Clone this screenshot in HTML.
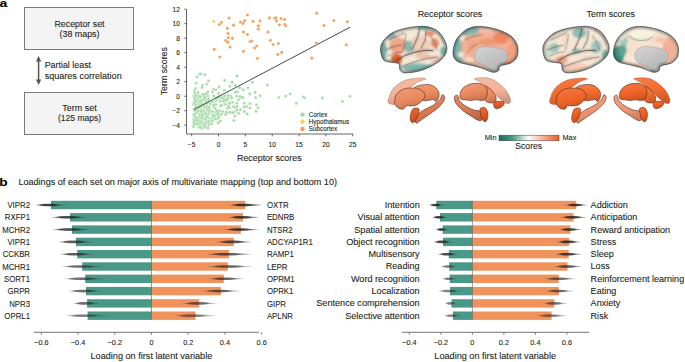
<!DOCTYPE html>
<html><head><meta charset="utf-8"><style>
html,body{margin:0;padding:0;background:#fff;}
svg{display:block;font-family:"Liberation Sans", sans-serif;}
text{stroke:#231f20;stroke-width:0.1px;paint-order:stroke;}
</style></head><body>
<svg width="685" height="362" viewBox="0 0 685 362">
<text x="-0.5" y="6.9" font-size="10.8" text-anchor="start" fill="#000" font-weight="bold" textLength="7.8" lengthAdjust="spacingAndGlyphs" >a</text>
<rect x="24.5" y="7.5" width="109" height="42" fill="#f4f4f4" stroke="#7a7a7a" stroke-width="1"/>
<rect x="24.5" y="92.5" width="109" height="42" fill="#f4f4f4" stroke="#7a7a7a" stroke-width="1"/>
<text x="79.5" y="26.7" font-size="8.9" text-anchor="middle" fill="#231f20" font-weight="normal" textLength="50" lengthAdjust="spacingAndGlyphs" >Receptor set</text>
<text x="79.5" y="36.5" font-size="8.9" text-anchor="middle" fill="#231f20" font-weight="normal" textLength="40" lengthAdjust="spacingAndGlyphs" >(38 maps)</text>
<text x="79.5" y="111.2" font-size="8.9" text-anchor="middle" fill="#231f20" font-weight="normal" textLength="34.3" lengthAdjust="spacingAndGlyphs" >Term set</text>
<text x="79.5" y="121" font-size="8.9" text-anchor="middle" fill="#231f20" font-weight="normal" textLength="43" lengthAdjust="spacingAndGlyphs" >(125 maps)</text>
<line x1="38.6" y1="60" x2="38.6" y2="81" stroke="#555" stroke-width="1.5"/>
<path d="M38.6 56 L41.2 61.5 L36 61.5 Z" fill="#555"/>
<path d="M38.6 85 L41.2 79.5 L36 79.5 Z" fill="#555"/>
<text x="44.7" y="68.2" font-size="8.9" text-anchor="start" fill="#231f20" font-weight="normal" >Partial least</text>
<text x="44.7" y="78.6" font-size="8.9" text-anchor="start" fill="#231f20" font-weight="normal" textLength="77" lengthAdjust="spacingAndGlyphs" >squares correlation</text>
<path d="M186.5 9.2 L186.5 134 L353 134" fill="none" stroke="#555" stroke-width="0.9"/>
<line x1="184.3" y1="125.20" x2="186.5" y2="125.20" stroke="#555" stroke-width="0.9"/>
<text x="180" y="127.60000000000001" font-size="6.7" text-anchor="end" fill="#231f20" font-weight="normal" >−4</text>
<line x1="184.3" y1="110.70" x2="186.5" y2="110.70" stroke="#555" stroke-width="0.9"/>
<text x="180" y="113.10000000000001" font-size="6.7" text-anchor="end" fill="#231f20" font-weight="normal" >−2</text>
<line x1="184.3" y1="96.20" x2="186.5" y2="96.20" stroke="#555" stroke-width="0.9"/>
<text x="180" y="98.60000000000001" font-size="6.7" text-anchor="end" fill="#231f20" font-weight="normal" >0</text>
<line x1="184.3" y1="81.70" x2="186.5" y2="81.70" stroke="#555" stroke-width="0.9"/>
<text x="180" y="84.10000000000001" font-size="6.7" text-anchor="end" fill="#231f20" font-weight="normal" >2</text>
<line x1="184.3" y1="67.20" x2="186.5" y2="67.20" stroke="#555" stroke-width="0.9"/>
<text x="180" y="69.60000000000001" font-size="6.7" text-anchor="end" fill="#231f20" font-weight="normal" >4</text>
<line x1="184.3" y1="52.70" x2="186.5" y2="52.70" stroke="#555" stroke-width="0.9"/>
<text x="180" y="55.1" font-size="6.7" text-anchor="end" fill="#231f20" font-weight="normal" >6</text>
<line x1="184.3" y1="38.20" x2="186.5" y2="38.20" stroke="#555" stroke-width="0.9"/>
<text x="180" y="40.6" font-size="6.7" text-anchor="end" fill="#231f20" font-weight="normal" >8</text>
<line x1="184.3" y1="23.70" x2="186.5" y2="23.70" stroke="#555" stroke-width="0.9"/>
<text x="180" y="26.1" font-size="6.7" text-anchor="end" fill="#231f20" font-weight="normal" >10</text>
<line x1="184.3" y1="9.20" x2="186.5" y2="9.20" stroke="#555" stroke-width="0.9"/>
<text x="180" y="11.600000000000003" font-size="6.7" text-anchor="end" fill="#231f20" font-weight="normal" >12</text>
<line x1="191.65" y1="134" x2="191.65" y2="136.3" stroke="#555" stroke-width="0.9"/>
<text x="191.65" y="146.6" font-size="6.7" text-anchor="middle" fill="#231f20" font-weight="normal" >−5</text>
<line x1="218.50" y1="134" x2="218.50" y2="136.3" stroke="#555" stroke-width="0.9"/>
<text x="218.5" y="146.6" font-size="6.7" text-anchor="middle" fill="#231f20" font-weight="normal" >0</text>
<line x1="245.35" y1="134" x2="245.35" y2="136.3" stroke="#555" stroke-width="0.9"/>
<text x="245.35" y="146.6" font-size="6.7" text-anchor="middle" fill="#231f20" font-weight="normal" >5</text>
<line x1="272.20" y1="134" x2="272.20" y2="136.3" stroke="#555" stroke-width="0.9"/>
<text x="272.2" y="146.6" font-size="6.7" text-anchor="middle" fill="#231f20" font-weight="normal" >10</text>
<line x1="299.05" y1="134" x2="299.05" y2="136.3" stroke="#555" stroke-width="0.9"/>
<text x="299.05" y="146.6" font-size="6.7" text-anchor="middle" fill="#231f20" font-weight="normal" >15</text>
<line x1="325.90" y1="134" x2="325.90" y2="136.3" stroke="#555" stroke-width="0.9"/>
<text x="325.9" y="146.6" font-size="6.7" text-anchor="middle" fill="#231f20" font-weight="normal" >20</text>
<line x1="352.75" y1="134" x2="352.75" y2="136.3" stroke="#555" stroke-width="0.9"/>
<text x="352.75" y="146.6" font-size="6.7" text-anchor="middle" fill="#231f20" font-weight="normal" >25</text>
<text x="269.3" y="160.5" font-size="8.9" text-anchor="middle" fill="#231f20" font-weight="normal" >Receptor scores</text>
<text x="0" y="0" font-size="8.9" text-anchor="middle" fill="#231f20" transform="translate(166.5 71.2) rotate(-90)">Term scores</text>
<circle cx="199.5" cy="74.1" r="1.55" fill="#a3d9a5" stroke="#fff" stroke-width="0.35"/>
<circle cx="201.1" cy="74.1" r="1.55" fill="#a3d9a5" stroke="#fff" stroke-width="0.35"/>
<circle cx="205.0" cy="74.7" r="1.55" fill="#a3d9a5" stroke="#fff" stroke-width="0.35"/>
<circle cx="197.0" cy="76.9" r="1.55" fill="#a3d9a5" stroke="#fff" stroke-width="0.35"/>
<circle cx="208.5" cy="80.8" r="1.55" fill="#a3d9a5" stroke="#fff" stroke-width="0.35"/>
<circle cx="196.1" cy="83.0" r="1.55" fill="#a3d9a5" stroke="#fff" stroke-width="0.35"/>
<circle cx="206.7" cy="84.1" r="1.55" fill="#a3d9a5" stroke="#fff" stroke-width="0.35"/>
<circle cx="202.5" cy="85.2" r="1.55" fill="#a3d9a5" stroke="#fff" stroke-width="0.35"/>
<circle cx="202.1" cy="87.6" r="1.55" fill="#a3d9a5" stroke="#fff" stroke-width="0.35"/>
<circle cx="195.4" cy="88.3" r="1.55" fill="#a3d9a5" stroke="#fff" stroke-width="0.35"/>
<circle cx="236.7" cy="75.8" r="1.55" fill="#a3d9a5" stroke="#fff" stroke-width="0.35"/>
<circle cx="224.6" cy="80.4" r="1.55" fill="#a3d9a5" stroke="#fff" stroke-width="0.35"/>
<circle cx="232.0" cy="82.1" r="1.55" fill="#a3d9a5" stroke="#fff" stroke-width="0.35"/>
<circle cx="219.0" cy="86.9" r="1.55" fill="#a3d9a5" stroke="#fff" stroke-width="0.35"/>
<circle cx="229.7" cy="86.2" r="1.55" fill="#a3d9a5" stroke="#fff" stroke-width="0.35"/>
<circle cx="235.3" cy="85.2" r="1.55" fill="#a3d9a5" stroke="#fff" stroke-width="0.35"/>
<circle cx="239.6" cy="87.6" r="1.55" fill="#a3d9a5" stroke="#fff" stroke-width="0.35"/>
<circle cx="243.1" cy="89.6" r="1.55" fill="#a3d9a5" stroke="#fff" stroke-width="0.35"/>
<circle cx="224.3" cy="90.2" r="1.55" fill="#a3d9a5" stroke="#fff" stroke-width="0.35"/>
<circle cx="213.5" cy="89.3" r="1.55" fill="#a3d9a5" stroke="#fff" stroke-width="0.35"/>
<circle cx="216.0" cy="89.8" r="1.55" fill="#a3d9a5" stroke="#fff" stroke-width="0.35"/>
<circle cx="194.7" cy="90.7" r="1.55" fill="#a3d9a5" stroke="#fff" stroke-width="0.35"/>
<circle cx="208.0" cy="91.5" r="1.55" fill="#a3d9a5" stroke="#fff" stroke-width="0.35"/>
<circle cx="212.4" cy="92.0" r="1.55" fill="#a3d9a5" stroke="#fff" stroke-width="0.35"/>
<circle cx="236.2" cy="92.0" r="1.55" fill="#a3d9a5" stroke="#fff" stroke-width="0.35"/>
<circle cx="237.8" cy="92.0" r="1.55" fill="#a3d9a5" stroke="#fff" stroke-width="0.35"/>
<circle cx="237.0" cy="76.1" r="1.55" fill="#a3d9a5" stroke="#fff" stroke-width="0.35"/>
<circle cx="232.1" cy="82.2" r="1.55" fill="#a3d9a5" stroke="#fff" stroke-width="0.35"/>
<circle cx="252.3" cy="82.2" r="1.55" fill="#a3d9a5" stroke="#fff" stroke-width="0.35"/>
<circle cx="267.4" cy="85.1" r="1.55" fill="#a3d9a5" stroke="#fff" stroke-width="0.35"/>
<circle cx="235.2" cy="85.3" r="1.55" fill="#a3d9a5" stroke="#fff" stroke-width="0.35"/>
<circle cx="239.6" cy="87.9" r="1.55" fill="#a3d9a5" stroke="#fff" stroke-width="0.35"/>
<circle cx="243.1" cy="89.7" r="1.55" fill="#a3d9a5" stroke="#fff" stroke-width="0.35"/>
<circle cx="247.9" cy="87.8" r="1.55" fill="#a3d9a5" stroke="#fff" stroke-width="0.35"/>
<circle cx="237.0" cy="91.8" r="1.55" fill="#a3d9a5" stroke="#fff" stroke-width="0.35"/>
<circle cx="235.2" cy="92.3" r="1.55" fill="#a3d9a5" stroke="#fff" stroke-width="0.35"/>
<circle cx="249.7" cy="93.9" r="1.55" fill="#a3d9a5" stroke="#fff" stroke-width="0.35"/>
<circle cx="255.2" cy="92.3" r="1.55" fill="#a3d9a5" stroke="#fff" stroke-width="0.35"/>
<circle cx="260.1" cy="95.8" r="1.55" fill="#a3d9a5" stroke="#fff" stroke-width="0.35"/>
<circle cx="255.6" cy="97.5" r="1.55" fill="#a3d9a5" stroke="#fff" stroke-width="0.35"/>
<circle cx="236.6" cy="96.1" r="1.55" fill="#a3d9a5" stroke="#fff" stroke-width="0.35"/>
<circle cx="240.8" cy="96.6" r="1.55" fill="#a3d9a5" stroke="#fff" stroke-width="0.35"/>
<circle cx="243.1" cy="97.5" r="1.55" fill="#a3d9a5" stroke="#fff" stroke-width="0.35"/>
<circle cx="231.7" cy="97.9" r="1.55" fill="#a3d9a5" stroke="#fff" stroke-width="0.35"/>
<circle cx="238.7" cy="99.6" r="1.55" fill="#a3d9a5" stroke="#fff" stroke-width="0.35"/>
<circle cx="278.8" cy="97.5" r="1.55" fill="#a3d9a5" stroke="#fff" stroke-width="0.35"/>
<circle cx="285.7" cy="96.1" r="1.55" fill="#a3d9a5" stroke="#fff" stroke-width="0.35"/>
<circle cx="290.2" cy="93.9" r="1.55" fill="#a3d9a5" stroke="#fff" stroke-width="0.35"/>
<circle cx="296.2" cy="103.4" r="1.55" fill="#a3d9a5" stroke="#fff" stroke-width="0.35"/>
<circle cx="232.6" cy="102.2" r="1.55" fill="#a3d9a5" stroke="#fff" stroke-width="0.35"/>
<circle cx="237.0" cy="103.4" r="1.55" fill="#a3d9a5" stroke="#fff" stroke-width="0.35"/>
<circle cx="244.3" cy="103.1" r="1.55" fill="#a3d9a5" stroke="#fff" stroke-width="0.35"/>
<circle cx="250.0" cy="103.6" r="1.55" fill="#a3d9a5" stroke="#fff" stroke-width="0.35"/>
<circle cx="256.5" cy="104.8" r="1.55" fill="#a3d9a5" stroke="#fff" stroke-width="0.35"/>
<circle cx="257.9" cy="107.8" r="1.55" fill="#a3d9a5" stroke="#fff" stroke-width="0.35"/>
<circle cx="246.5" cy="106.6" r="1.55" fill="#a3d9a5" stroke="#fff" stroke-width="0.35"/>
<circle cx="243.9" cy="106.9" r="1.55" fill="#a3d9a5" stroke="#fff" stroke-width="0.35"/>
<circle cx="250.0" cy="108.0" r="1.55" fill="#a3d9a5" stroke="#fff" stroke-width="0.35"/>
<circle cx="240.4" cy="109.7" r="1.55" fill="#a3d9a5" stroke="#fff" stroke-width="0.35"/>
<circle cx="233.5" cy="106.6" r="1.55" fill="#a3d9a5" stroke="#fff" stroke-width="0.35"/>
<circle cx="235.2" cy="107.4" r="1.55" fill="#a3d9a5" stroke="#fff" stroke-width="0.35"/>
<circle cx="237.0" cy="106.6" r="1.55" fill="#a3d9a5" stroke="#fff" stroke-width="0.35"/>
<circle cx="237.0" cy="110.0" r="1.55" fill="#a3d9a5" stroke="#fff" stroke-width="0.35"/>
<circle cx="234.4" cy="111.8" r="1.55" fill="#a3d9a5" stroke="#fff" stroke-width="0.35"/>
<circle cx="232.6" cy="112.7" r="1.55" fill="#a3d9a5" stroke="#fff" stroke-width="0.35"/>
<circle cx="238.7" cy="113.2" r="1.55" fill="#a3d9a5" stroke="#fff" stroke-width="0.35"/>
<circle cx="244.3" cy="111.4" r="1.55" fill="#a3d9a5" stroke="#fff" stroke-width="0.35"/>
<circle cx="247.1" cy="113.9" r="1.55" fill="#a3d9a5" stroke="#fff" stroke-width="0.35"/>
<circle cx="256.1" cy="111.4" r="1.55" fill="#a3d9a5" stroke="#fff" stroke-width="0.35"/>
<circle cx="234.9" cy="116.1" r="1.55" fill="#a3d9a5" stroke="#fff" stroke-width="0.35"/>
<circle cx="233.8" cy="120.5" r="1.55" fill="#a3d9a5" stroke="#fff" stroke-width="0.35"/>
<circle cx="303.1" cy="96.9" r="1.55" fill="#a3d9a5" stroke="#fff" stroke-width="0.35"/>
<circle cx="304.5" cy="97.7" r="1.55" fill="#a3d9a5" stroke="#fff" stroke-width="0.35"/>
<circle cx="322.3" cy="97.9" r="1.55" fill="#a3d9a5" stroke="#fff" stroke-width="0.35"/>
<circle cx="342.5" cy="101.4" r="1.55" fill="#a3d9a5" stroke="#fff" stroke-width="0.35"/>
<circle cx="349.9" cy="96.3" r="1.55" fill="#a3d9a5" stroke="#fff" stroke-width="0.35"/>
<circle cx="197.4" cy="112.8" r="1.55" fill="#a3d9a5" stroke="#fff" stroke-width="0.35"/>
<circle cx="199.6" cy="114.8" r="1.55" fill="#a3d9a5" stroke="#fff" stroke-width="0.35"/>
<circle cx="203.8" cy="96.3" r="1.55" fill="#a3d9a5" stroke="#fff" stroke-width="0.35"/>
<circle cx="193.7" cy="122.9" r="1.55" fill="#a3d9a5" stroke="#fff" stroke-width="0.35"/>
<circle cx="197.8" cy="102.1" r="1.55" fill="#a3d9a5" stroke="#fff" stroke-width="0.35"/>
<circle cx="209.9" cy="110.2" r="1.55" fill="#a3d9a5" stroke="#fff" stroke-width="0.35"/>
<circle cx="207.3" cy="110.4" r="1.55" fill="#a3d9a5" stroke="#fff" stroke-width="0.35"/>
<circle cx="204.0" cy="99.2" r="1.55" fill="#a3d9a5" stroke="#fff" stroke-width="0.35"/>
<circle cx="204.0" cy="123.9" r="1.55" fill="#a3d9a5" stroke="#fff" stroke-width="0.35"/>
<circle cx="202.1" cy="119.6" r="1.55" fill="#a3d9a5" stroke="#fff" stroke-width="0.35"/>
<circle cx="204.6" cy="96.2" r="1.55" fill="#a3d9a5" stroke="#fff" stroke-width="0.35"/>
<circle cx="206.0" cy="114.4" r="1.55" fill="#a3d9a5" stroke="#fff" stroke-width="0.35"/>
<circle cx="198.5" cy="95.1" r="1.55" fill="#a3d9a5" stroke="#fff" stroke-width="0.35"/>
<circle cx="207.8" cy="110.3" r="1.55" fill="#a3d9a5" stroke="#fff" stroke-width="0.35"/>
<circle cx="205.4" cy="124.3" r="1.55" fill="#a3d9a5" stroke="#fff" stroke-width="0.35"/>
<circle cx="205.3" cy="125.8" r="1.55" fill="#a3d9a5" stroke="#fff" stroke-width="0.35"/>
<circle cx="200.0" cy="121.6" r="1.55" fill="#a3d9a5" stroke="#fff" stroke-width="0.35"/>
<circle cx="200.8" cy="126.3" r="1.55" fill="#a3d9a5" stroke="#fff" stroke-width="0.35"/>
<circle cx="208.0" cy="97.4" r="1.55" fill="#a3d9a5" stroke="#fff" stroke-width="0.35"/>
<circle cx="195.7" cy="101.5" r="1.55" fill="#a3d9a5" stroke="#fff" stroke-width="0.35"/>
<circle cx="209.4" cy="109.0" r="1.55" fill="#a3d9a5" stroke="#fff" stroke-width="0.35"/>
<circle cx="203.8" cy="104.4" r="1.55" fill="#a3d9a5" stroke="#fff" stroke-width="0.35"/>
<circle cx="201.9" cy="107.3" r="1.55" fill="#a3d9a5" stroke="#fff" stroke-width="0.35"/>
<circle cx="199.3" cy="114.2" r="1.55" fill="#a3d9a5" stroke="#fff" stroke-width="0.35"/>
<circle cx="203.1" cy="125.2" r="1.55" fill="#a3d9a5" stroke="#fff" stroke-width="0.35"/>
<circle cx="204.8" cy="126.0" r="1.55" fill="#a3d9a5" stroke="#fff" stroke-width="0.35"/>
<circle cx="207.6" cy="128.2" r="1.55" fill="#a3d9a5" stroke="#fff" stroke-width="0.35"/>
<circle cx="204.6" cy="99.6" r="1.55" fill="#a3d9a5" stroke="#fff" stroke-width="0.35"/>
<circle cx="207.7" cy="127.3" r="1.55" fill="#a3d9a5" stroke="#fff" stroke-width="0.35"/>
<circle cx="208.4" cy="113.6" r="1.55" fill="#a3d9a5" stroke="#fff" stroke-width="0.35"/>
<circle cx="205.3" cy="101.3" r="1.55" fill="#a3d9a5" stroke="#fff" stroke-width="0.35"/>
<circle cx="207.2" cy="113.8" r="1.55" fill="#a3d9a5" stroke="#fff" stroke-width="0.35"/>
<circle cx="198.2" cy="96.2" r="1.55" fill="#a3d9a5" stroke="#fff" stroke-width="0.35"/>
<circle cx="207.6" cy="128.1" r="1.55" fill="#a3d9a5" stroke="#fff" stroke-width="0.35"/>
<circle cx="195.0" cy="121.6" r="1.55" fill="#a3d9a5" stroke="#fff" stroke-width="0.35"/>
<circle cx="200.3" cy="99.2" r="1.55" fill="#a3d9a5" stroke="#fff" stroke-width="0.35"/>
<circle cx="198.3" cy="120.5" r="1.55" fill="#a3d9a5" stroke="#fff" stroke-width="0.35"/>
<circle cx="207.9" cy="95.5" r="1.55" fill="#a3d9a5" stroke="#fff" stroke-width="0.35"/>
<circle cx="203.6" cy="95.6" r="1.55" fill="#a3d9a5" stroke="#fff" stroke-width="0.35"/>
<circle cx="205.4" cy="105.4" r="1.55" fill="#a3d9a5" stroke="#fff" stroke-width="0.35"/>
<circle cx="208.0" cy="127.8" r="1.55" fill="#a3d9a5" stroke="#fff" stroke-width="0.35"/>
<circle cx="201.8" cy="128.4" r="1.55" fill="#a3d9a5" stroke="#fff" stroke-width="0.35"/>
<circle cx="198.6" cy="96.7" r="1.55" fill="#a3d9a5" stroke="#fff" stroke-width="0.35"/>
<circle cx="203.4" cy="95.1" r="1.55" fill="#a3d9a5" stroke="#fff" stroke-width="0.35"/>
<circle cx="196.8" cy="108.1" r="1.55" fill="#a3d9a5" stroke="#fff" stroke-width="0.35"/>
<circle cx="203.6" cy="99.4" r="1.55" fill="#a3d9a5" stroke="#fff" stroke-width="0.35"/>
<circle cx="194.2" cy="123.9" r="1.55" fill="#a3d9a5" stroke="#fff" stroke-width="0.35"/>
<circle cx="198.7" cy="127.1" r="1.55" fill="#a3d9a5" stroke="#fff" stroke-width="0.35"/>
<circle cx="208.3" cy="107.0" r="1.55" fill="#a3d9a5" stroke="#fff" stroke-width="0.35"/>
<circle cx="201.1" cy="111.9" r="1.55" fill="#a3d9a5" stroke="#fff" stroke-width="0.35"/>
<circle cx="204.1" cy="114.5" r="1.55" fill="#a3d9a5" stroke="#fff" stroke-width="0.35"/>
<circle cx="202.7" cy="115.4" r="1.55" fill="#a3d9a5" stroke="#fff" stroke-width="0.35"/>
<circle cx="209.0" cy="111.5" r="1.55" fill="#a3d9a5" stroke="#fff" stroke-width="0.35"/>
<circle cx="200.6" cy="118.9" r="1.55" fill="#a3d9a5" stroke="#fff" stroke-width="0.35"/>
<circle cx="197.4" cy="104.4" r="1.55" fill="#a3d9a5" stroke="#fff" stroke-width="0.35"/>
<circle cx="209.6" cy="112.0" r="1.55" fill="#a3d9a5" stroke="#fff" stroke-width="0.35"/>
<circle cx="202.5" cy="94.4" r="1.55" fill="#a3d9a5" stroke="#fff" stroke-width="0.35"/>
<circle cx="200.4" cy="114.0" r="1.55" fill="#a3d9a5" stroke="#fff" stroke-width="0.35"/>
<circle cx="193.8" cy="115.2" r="1.55" fill="#a3d9a5" stroke="#fff" stroke-width="0.35"/>
<circle cx="203.9" cy="96.1" r="1.55" fill="#a3d9a5" stroke="#fff" stroke-width="0.35"/>
<circle cx="203.9" cy="110.1" r="1.55" fill="#a3d9a5" stroke="#fff" stroke-width="0.35"/>
<circle cx="204.7" cy="106.2" r="1.55" fill="#a3d9a5" stroke="#fff" stroke-width="0.35"/>
<circle cx="205.2" cy="119.5" r="1.55" fill="#a3d9a5" stroke="#fff" stroke-width="0.35"/>
<circle cx="193.9" cy="96.1" r="1.55" fill="#a3d9a5" stroke="#fff" stroke-width="0.35"/>
<circle cx="204.7" cy="127.2" r="1.55" fill="#a3d9a5" stroke="#fff" stroke-width="0.35"/>
<circle cx="197.6" cy="109.7" r="1.55" fill="#a3d9a5" stroke="#fff" stroke-width="0.35"/>
<circle cx="203.3" cy="105.0" r="1.55" fill="#a3d9a5" stroke="#fff" stroke-width="0.35"/>
<circle cx="199.5" cy="104.8" r="1.55" fill="#a3d9a5" stroke="#fff" stroke-width="0.35"/>
<circle cx="199.6" cy="114.5" r="1.55" fill="#a3d9a5" stroke="#fff" stroke-width="0.35"/>
<circle cx="198.5" cy="107.0" r="1.55" fill="#a3d9a5" stroke="#fff" stroke-width="0.35"/>
<circle cx="206.2" cy="94.9" r="1.55" fill="#a3d9a5" stroke="#fff" stroke-width="0.35"/>
<circle cx="202.9" cy="119.4" r="1.55" fill="#a3d9a5" stroke="#fff" stroke-width="0.35"/>
<circle cx="198.6" cy="101.7" r="1.55" fill="#a3d9a5" stroke="#fff" stroke-width="0.35"/>
<circle cx="206.8" cy="102.2" r="1.55" fill="#a3d9a5" stroke="#fff" stroke-width="0.35"/>
<circle cx="196.6" cy="109.0" r="1.55" fill="#a3d9a5" stroke="#fff" stroke-width="0.35"/>
<circle cx="205.0" cy="97.5" r="1.55" fill="#a3d9a5" stroke="#fff" stroke-width="0.35"/>
<circle cx="198.8" cy="105.5" r="1.55" fill="#a3d9a5" stroke="#fff" stroke-width="0.35"/>
<circle cx="207.3" cy="109.1" r="1.55" fill="#a3d9a5" stroke="#fff" stroke-width="0.35"/>
<circle cx="207.6" cy="99.8" r="1.55" fill="#a3d9a5" stroke="#fff" stroke-width="0.35"/>
<circle cx="199.1" cy="116.4" r="1.55" fill="#a3d9a5" stroke="#fff" stroke-width="0.35"/>
<circle cx="208.1" cy="109.6" r="1.55" fill="#a3d9a5" stroke="#fff" stroke-width="0.35"/>
<circle cx="197.2" cy="98.2" r="1.55" fill="#a3d9a5" stroke="#fff" stroke-width="0.35"/>
<circle cx="202.2" cy="100.6" r="1.55" fill="#a3d9a5" stroke="#fff" stroke-width="0.35"/>
<circle cx="206.8" cy="122.9" r="1.55" fill="#a3d9a5" stroke="#fff" stroke-width="0.35"/>
<circle cx="196.5" cy="103.6" r="1.55" fill="#a3d9a5" stroke="#fff" stroke-width="0.35"/>
<circle cx="206.8" cy="116.1" r="1.55" fill="#a3d9a5" stroke="#fff" stroke-width="0.35"/>
<circle cx="206.8" cy="105.9" r="1.55" fill="#a3d9a5" stroke="#fff" stroke-width="0.35"/>
<circle cx="195.6" cy="104.1" r="1.55" fill="#a3d9a5" stroke="#fff" stroke-width="0.35"/>
<circle cx="206.6" cy="103.4" r="1.55" fill="#a3d9a5" stroke="#fff" stroke-width="0.35"/>
<circle cx="199.2" cy="108.4" r="1.55" fill="#a3d9a5" stroke="#fff" stroke-width="0.35"/>
<circle cx="200.4" cy="108.1" r="1.55" fill="#a3d9a5" stroke="#fff" stroke-width="0.35"/>
<circle cx="208.7" cy="99.4" r="1.55" fill="#a3d9a5" stroke="#fff" stroke-width="0.35"/>
<circle cx="193.6" cy="126.5" r="1.55" fill="#a3d9a5" stroke="#fff" stroke-width="0.35"/>
<circle cx="208.0" cy="128.0" r="1.55" fill="#a3d9a5" stroke="#fff" stroke-width="0.35"/>
<circle cx="200.7" cy="126.8" r="1.55" fill="#a3d9a5" stroke="#fff" stroke-width="0.35"/>
<circle cx="208.8" cy="101.7" r="1.55" fill="#a3d9a5" stroke="#fff" stroke-width="0.35"/>
<circle cx="205.8" cy="122.9" r="1.55" fill="#a3d9a5" stroke="#fff" stroke-width="0.35"/>
<circle cx="204.4" cy="111.9" r="1.55" fill="#a3d9a5" stroke="#fff" stroke-width="0.35"/>
<circle cx="198.3" cy="105.8" r="1.55" fill="#a3d9a5" stroke="#fff" stroke-width="0.35"/>
<circle cx="197.3" cy="96.3" r="1.55" fill="#a3d9a5" stroke="#fff" stroke-width="0.35"/>
<circle cx="203.2" cy="103.9" r="1.55" fill="#a3d9a5" stroke="#fff" stroke-width="0.35"/>
<circle cx="206.9" cy="95.6" r="1.55" fill="#a3d9a5" stroke="#fff" stroke-width="0.35"/>
<circle cx="208.4" cy="117.9" r="1.55" fill="#a3d9a5" stroke="#fff" stroke-width="0.35"/>
<circle cx="208.7" cy="124.9" r="1.55" fill="#a3d9a5" stroke="#fff" stroke-width="0.35"/>
<circle cx="208.3" cy="113.9" r="1.55" fill="#a3d9a5" stroke="#fff" stroke-width="0.35"/>
<circle cx="193.7" cy="119.7" r="1.55" fill="#a3d9a5" stroke="#fff" stroke-width="0.35"/>
<circle cx="196.3" cy="104.3" r="1.55" fill="#a3d9a5" stroke="#fff" stroke-width="0.35"/>
<circle cx="204.4" cy="112.1" r="1.55" fill="#a3d9a5" stroke="#fff" stroke-width="0.35"/>
<circle cx="200.3" cy="126.4" r="1.55" fill="#a3d9a5" stroke="#fff" stroke-width="0.35"/>
<circle cx="203.6" cy="105.8" r="1.55" fill="#a3d9a5" stroke="#fff" stroke-width="0.35"/>
<circle cx="197.7" cy="123.7" r="1.55" fill="#a3d9a5" stroke="#fff" stroke-width="0.35"/>
<circle cx="201.4" cy="121.0" r="1.55" fill="#a3d9a5" stroke="#fff" stroke-width="0.35"/>
<circle cx="199.3" cy="100.8" r="1.55" fill="#a3d9a5" stroke="#fff" stroke-width="0.35"/>
<circle cx="202.3" cy="122.2" r="1.55" fill="#a3d9a5" stroke="#fff" stroke-width="0.35"/>
<circle cx="196.3" cy="121.3" r="1.55" fill="#a3d9a5" stroke="#fff" stroke-width="0.35"/>
<circle cx="208.7" cy="121.8" r="1.55" fill="#a3d9a5" stroke="#fff" stroke-width="0.35"/>
<circle cx="207.1" cy="94.3" r="1.55" fill="#a3d9a5" stroke="#fff" stroke-width="0.35"/>
<circle cx="203.9" cy="123.8" r="1.55" fill="#a3d9a5" stroke="#fff" stroke-width="0.35"/>
<circle cx="194.3" cy="103.4" r="1.55" fill="#a3d9a5" stroke="#fff" stroke-width="0.35"/>
<circle cx="197.9" cy="112.2" r="1.55" fill="#a3d9a5" stroke="#fff" stroke-width="0.35"/>
<circle cx="200.5" cy="110.3" r="1.55" fill="#a3d9a5" stroke="#fff" stroke-width="0.35"/>
<circle cx="206.3" cy="94.1" r="1.55" fill="#a3d9a5" stroke="#fff" stroke-width="0.35"/>
<circle cx="194.4" cy="98.4" r="1.55" fill="#a3d9a5" stroke="#fff" stroke-width="0.35"/>
<circle cx="195.6" cy="96.4" r="1.55" fill="#a3d9a5" stroke="#fff" stroke-width="0.35"/>
<circle cx="209.6" cy="123.5" r="1.55" fill="#a3d9a5" stroke="#fff" stroke-width="0.35"/>
<circle cx="194.9" cy="111.3" r="1.55" fill="#a3d9a5" stroke="#fff" stroke-width="0.35"/>
<circle cx="198.7" cy="104.9" r="1.55" fill="#a3d9a5" stroke="#fff" stroke-width="0.35"/>
<circle cx="199.3" cy="116.3" r="1.55" fill="#a3d9a5" stroke="#fff" stroke-width="0.35"/>
<circle cx="203.2" cy="106.4" r="1.55" fill="#a3d9a5" stroke="#fff" stroke-width="0.35"/>
<circle cx="196.7" cy="105.3" r="1.55" fill="#a3d9a5" stroke="#fff" stroke-width="0.35"/>
<circle cx="195.5" cy="113.2" r="1.55" fill="#a3d9a5" stroke="#fff" stroke-width="0.35"/>
<circle cx="205.3" cy="107.1" r="1.55" fill="#a3d9a5" stroke="#fff" stroke-width="0.35"/>
<circle cx="194.8" cy="100.2" r="1.55" fill="#a3d9a5" stroke="#fff" stroke-width="0.35"/>
<circle cx="199.7" cy="114.9" r="1.55" fill="#a3d9a5" stroke="#fff" stroke-width="0.35"/>
<circle cx="206.4" cy="107.1" r="1.55" fill="#a3d9a5" stroke="#fff" stroke-width="0.35"/>
<circle cx="206.7" cy="115.5" r="1.55" fill="#a3d9a5" stroke="#fff" stroke-width="0.35"/>
<circle cx="200.6" cy="106.8" r="1.55" fill="#a3d9a5" stroke="#fff" stroke-width="0.35"/>
<circle cx="201.7" cy="118.2" r="1.55" fill="#a3d9a5" stroke="#fff" stroke-width="0.35"/>
<circle cx="200.4" cy="117.9" r="1.55" fill="#a3d9a5" stroke="#fff" stroke-width="0.35"/>
<circle cx="201.1" cy="102.5" r="1.55" fill="#a3d9a5" stroke="#fff" stroke-width="0.35"/>
<circle cx="202.3" cy="118.0" r="1.55" fill="#a3d9a5" stroke="#fff" stroke-width="0.35"/>
<circle cx="194.7" cy="108.7" r="1.55" fill="#a3d9a5" stroke="#fff" stroke-width="0.35"/>
<circle cx="200.5" cy="124.3" r="1.55" fill="#a3d9a5" stroke="#fff" stroke-width="0.35"/>
<circle cx="209.0" cy="106.9" r="1.55" fill="#a3d9a5" stroke="#fff" stroke-width="0.35"/>
<circle cx="208.3" cy="121.3" r="1.55" fill="#a3d9a5" stroke="#fff" stroke-width="0.35"/>
<circle cx="197.8" cy="110.0" r="1.55" fill="#a3d9a5" stroke="#fff" stroke-width="0.35"/>
<circle cx="195.5" cy="122.1" r="1.55" fill="#a3d9a5" stroke="#fff" stroke-width="0.35"/>
<circle cx="204.4" cy="124.6" r="1.55" fill="#a3d9a5" stroke="#fff" stroke-width="0.35"/>
<circle cx="206.6" cy="117.0" r="1.55" fill="#a3d9a5" stroke="#fff" stroke-width="0.35"/>
<circle cx="205.6" cy="113.5" r="1.55" fill="#a3d9a5" stroke="#fff" stroke-width="0.35"/>
<circle cx="194.5" cy="116.8" r="1.55" fill="#a3d9a5" stroke="#fff" stroke-width="0.35"/>
<circle cx="193.5" cy="104.1" r="1.55" fill="#a3d9a5" stroke="#fff" stroke-width="0.35"/>
<circle cx="200.9" cy="101.3" r="1.55" fill="#a3d9a5" stroke="#fff" stroke-width="0.35"/>
<circle cx="194.4" cy="102.8" r="1.55" fill="#a3d9a5" stroke="#fff" stroke-width="0.35"/>
<circle cx="201.9" cy="105.1" r="1.55" fill="#a3d9a5" stroke="#fff" stroke-width="0.35"/>
<circle cx="193.7" cy="124.0" r="1.55" fill="#a3d9a5" stroke="#fff" stroke-width="0.35"/>
<circle cx="194.7" cy="124.1" r="1.55" fill="#a3d9a5" stroke="#fff" stroke-width="0.35"/>
<circle cx="199.9" cy="123.8" r="1.55" fill="#a3d9a5" stroke="#fff" stroke-width="0.35"/>
<circle cx="202.5" cy="116.5" r="1.55" fill="#a3d9a5" stroke="#fff" stroke-width="0.35"/>
<circle cx="201.1" cy="101.0" r="1.55" fill="#a3d9a5" stroke="#fff" stroke-width="0.35"/>
<circle cx="200.8" cy="114.6" r="1.55" fill="#a3d9a5" stroke="#fff" stroke-width="0.35"/>
<circle cx="200.3" cy="103.0" r="1.55" fill="#a3d9a5" stroke="#fff" stroke-width="0.35"/>
<circle cx="200.6" cy="126.6" r="1.55" fill="#a3d9a5" stroke="#fff" stroke-width="0.35"/>
<circle cx="194.1" cy="109.2" r="1.55" fill="#a3d9a5" stroke="#fff" stroke-width="0.35"/>
<circle cx="198.9" cy="123.6" r="1.55" fill="#a3d9a5" stroke="#fff" stroke-width="0.35"/>
<circle cx="195.8" cy="105.1" r="1.55" fill="#a3d9a5" stroke="#fff" stroke-width="0.35"/>
<circle cx="195.9" cy="117.6" r="1.55" fill="#a3d9a5" stroke="#fff" stroke-width="0.35"/>
<circle cx="200.7" cy="111.2" r="1.55" fill="#a3d9a5" stroke="#fff" stroke-width="0.35"/>
<circle cx="197.0" cy="111.3" r="1.55" fill="#a3d9a5" stroke="#fff" stroke-width="0.35"/>
<circle cx="196.8" cy="111.9" r="1.55" fill="#a3d9a5" stroke="#fff" stroke-width="0.35"/>
<circle cx="194.3" cy="114.3" r="1.55" fill="#a3d9a5" stroke="#fff" stroke-width="0.35"/>
<circle cx="202.7" cy="111.8" r="1.55" fill="#a3d9a5" stroke="#fff" stroke-width="0.35"/>
<circle cx="200.6" cy="104.6" r="1.55" fill="#a3d9a5" stroke="#fff" stroke-width="0.35"/>
<circle cx="200.1" cy="121.5" r="1.55" fill="#a3d9a5" stroke="#fff" stroke-width="0.35"/>
<circle cx="199.9" cy="114.7" r="1.55" fill="#a3d9a5" stroke="#fff" stroke-width="0.35"/>
<circle cx="198.1" cy="118.3" r="1.55" fill="#a3d9a5" stroke="#fff" stroke-width="0.35"/>
<circle cx="202.0" cy="104.3" r="1.55" fill="#a3d9a5" stroke="#fff" stroke-width="0.35"/>
<circle cx="194.4" cy="121.3" r="1.55" fill="#a3d9a5" stroke="#fff" stroke-width="0.35"/>
<circle cx="202.2" cy="114.7" r="1.55" fill="#a3d9a5" stroke="#fff" stroke-width="0.35"/>
<circle cx="197.7" cy="120.5" r="1.55" fill="#a3d9a5" stroke="#fff" stroke-width="0.35"/>
<circle cx="195.3" cy="107.6" r="1.55" fill="#a3d9a5" stroke="#fff" stroke-width="0.35"/>
<circle cx="195.4" cy="116.7" r="1.55" fill="#a3d9a5" stroke="#fff" stroke-width="0.35"/>
<circle cx="196.5" cy="106.6" r="1.55" fill="#a3d9a5" stroke="#fff" stroke-width="0.35"/>
<circle cx="200.1" cy="127.2" r="1.55" fill="#a3d9a5" stroke="#fff" stroke-width="0.35"/>
<circle cx="196.3" cy="120.1" r="1.55" fill="#a3d9a5" stroke="#fff" stroke-width="0.35"/>
<circle cx="197.4" cy="124.3" r="1.55" fill="#a3d9a5" stroke="#fff" stroke-width="0.35"/>
<circle cx="199.1" cy="107.6" r="1.55" fill="#a3d9a5" stroke="#fff" stroke-width="0.35"/>
<circle cx="195.6" cy="100.7" r="1.55" fill="#a3d9a5" stroke="#fff" stroke-width="0.35"/>
<circle cx="198.1" cy="110.9" r="1.55" fill="#a3d9a5" stroke="#fff" stroke-width="0.35"/>
<circle cx="195.1" cy="110.3" r="1.55" fill="#a3d9a5" stroke="#fff" stroke-width="0.35"/>
<circle cx="213.9" cy="117.2" r="1.55" fill="#a3d9a5" stroke="#fff" stroke-width="0.35"/>
<circle cx="211.7" cy="123.7" r="1.55" fill="#a3d9a5" stroke="#fff" stroke-width="0.35"/>
<circle cx="215.8" cy="112.0" r="1.55" fill="#a3d9a5" stroke="#fff" stroke-width="0.35"/>
<circle cx="215.6" cy="119.0" r="1.55" fill="#a3d9a5" stroke="#fff" stroke-width="0.35"/>
<circle cx="219.9" cy="110.7" r="1.55" fill="#a3d9a5" stroke="#fff" stroke-width="0.35"/>
<circle cx="215.8" cy="115.6" r="1.55" fill="#a3d9a5" stroke="#fff" stroke-width="0.35"/>
<circle cx="220.3" cy="106.0" r="1.55" fill="#a3d9a5" stroke="#fff" stroke-width="0.35"/>
<circle cx="218.8" cy="122.8" r="1.55" fill="#a3d9a5" stroke="#fff" stroke-width="0.35"/>
<circle cx="215.6" cy="100.9" r="1.55" fill="#a3d9a5" stroke="#fff" stroke-width="0.35"/>
<circle cx="212.8" cy="115.5" r="1.55" fill="#a3d9a5" stroke="#fff" stroke-width="0.35"/>
<circle cx="218.1" cy="122.8" r="1.55" fill="#a3d9a5" stroke="#fff" stroke-width="0.35"/>
<circle cx="220.2" cy="101.3" r="1.55" fill="#a3d9a5" stroke="#fff" stroke-width="0.35"/>
<circle cx="212.3" cy="101.8" r="1.55" fill="#a3d9a5" stroke="#fff" stroke-width="0.35"/>
<circle cx="212.2" cy="115.1" r="1.55" fill="#a3d9a5" stroke="#fff" stroke-width="0.35"/>
<circle cx="220.3" cy="121.0" r="1.55" fill="#a3d9a5" stroke="#fff" stroke-width="0.35"/>
<circle cx="213.1" cy="120.0" r="1.55" fill="#a3d9a5" stroke="#fff" stroke-width="0.35"/>
<circle cx="213.8" cy="106.7" r="1.55" fill="#a3d9a5" stroke="#fff" stroke-width="0.35"/>
<circle cx="218.7" cy="96.6" r="1.55" fill="#a3d9a5" stroke="#fff" stroke-width="0.35"/>
<circle cx="211.1" cy="119.0" r="1.55" fill="#a3d9a5" stroke="#fff" stroke-width="0.35"/>
<circle cx="213.5" cy="104.7" r="1.55" fill="#a3d9a5" stroke="#fff" stroke-width="0.35"/>
<circle cx="217.0" cy="114.3" r="1.55" fill="#a3d9a5" stroke="#fff" stroke-width="0.35"/>
<circle cx="210.1" cy="104.0" r="1.55" fill="#a3d9a5" stroke="#fff" stroke-width="0.35"/>
<circle cx="215.2" cy="108.6" r="1.55" fill="#a3d9a5" stroke="#fff" stroke-width="0.35"/>
<circle cx="212.5" cy="111.6" r="1.55" fill="#a3d9a5" stroke="#fff" stroke-width="0.35"/>
<circle cx="221.5" cy="105.7" r="1.55" fill="#a3d9a5" stroke="#fff" stroke-width="0.35"/>
<circle cx="216.5" cy="97.6" r="1.55" fill="#a3d9a5" stroke="#fff" stroke-width="0.35"/>
<circle cx="213.3" cy="114.0" r="1.55" fill="#a3d9a5" stroke="#fff" stroke-width="0.35"/>
<circle cx="211.4" cy="120.6" r="1.55" fill="#a3d9a5" stroke="#fff" stroke-width="0.35"/>
<circle cx="220.9" cy="96.9" r="1.55" fill="#a3d9a5" stroke="#fff" stroke-width="0.35"/>
<circle cx="221.3" cy="105.2" r="1.55" fill="#a3d9a5" stroke="#fff" stroke-width="0.35"/>
<circle cx="219.3" cy="116.7" r="1.55" fill="#a3d9a5" stroke="#fff" stroke-width="0.35"/>
<circle cx="213.5" cy="114.3" r="1.55" fill="#a3d9a5" stroke="#fff" stroke-width="0.35"/>
<circle cx="217.8" cy="118.2" r="1.55" fill="#a3d9a5" stroke="#fff" stroke-width="0.35"/>
<circle cx="213.2" cy="116.6" r="1.55" fill="#a3d9a5" stroke="#fff" stroke-width="0.35"/>
<circle cx="221.5" cy="114.2" r="1.55" fill="#a3d9a5" stroke="#fff" stroke-width="0.35"/>
<circle cx="216.4" cy="97.4" r="1.55" fill="#a3d9a5" stroke="#fff" stroke-width="0.35"/>
<circle cx="215.9" cy="104.6" r="1.55" fill="#a3d9a5" stroke="#fff" stroke-width="0.35"/>
<circle cx="218.6" cy="114.4" r="1.55" fill="#a3d9a5" stroke="#fff" stroke-width="0.35"/>
<circle cx="216.8" cy="99.5" r="1.55" fill="#a3d9a5" stroke="#fff" stroke-width="0.35"/>
<circle cx="217.7" cy="112.9" r="1.55" fill="#a3d9a5" stroke="#fff" stroke-width="0.35"/>
<circle cx="212.1" cy="120.7" r="1.55" fill="#a3d9a5" stroke="#fff" stroke-width="0.35"/>
<circle cx="217.9" cy="97.7" r="1.55" fill="#a3d9a5" stroke="#fff" stroke-width="0.35"/>
<circle cx="221.2" cy="98.2" r="1.55" fill="#a3d9a5" stroke="#fff" stroke-width="0.35"/>
<circle cx="214.0" cy="115.6" r="1.55" fill="#a3d9a5" stroke="#fff" stroke-width="0.35"/>
<circle cx="217.2" cy="110.6" r="1.55" fill="#a3d9a5" stroke="#fff" stroke-width="0.35"/>
<circle cx="228.5" cy="105.5" r="1.55" fill="#a3d9a5" stroke="#fff" stroke-width="0.35"/>
<circle cx="225.1" cy="99.1" r="1.55" fill="#a3d9a5" stroke="#fff" stroke-width="0.35"/>
<circle cx="222.7" cy="111.5" r="1.55" fill="#a3d9a5" stroke="#fff" stroke-width="0.35"/>
<circle cx="229.5" cy="107.5" r="1.55" fill="#a3d9a5" stroke="#fff" stroke-width="0.35"/>
<circle cx="229.4" cy="103.3" r="1.55" fill="#a3d9a5" stroke="#fff" stroke-width="0.35"/>
<circle cx="224.7" cy="103.8" r="1.55" fill="#a3d9a5" stroke="#fff" stroke-width="0.35"/>
<circle cx="230.7" cy="96.0" r="1.55" fill="#a3d9a5" stroke="#fff" stroke-width="0.35"/>
<circle cx="227.0" cy="100.7" r="1.55" fill="#a3d9a5" stroke="#fff" stroke-width="0.35"/>
<circle cx="229.7" cy="103.1" r="1.55" fill="#a3d9a5" stroke="#fff" stroke-width="0.35"/>
<circle cx="225.3" cy="104.3" r="1.55" fill="#a3d9a5" stroke="#fff" stroke-width="0.35"/>
<circle cx="227.4" cy="112.7" r="1.55" fill="#a3d9a5" stroke="#fff" stroke-width="0.35"/>
<circle cx="225.5" cy="114.5" r="1.55" fill="#a3d9a5" stroke="#fff" stroke-width="0.35"/>
<circle cx="223.1" cy="101.2" r="1.55" fill="#a3d9a5" stroke="#fff" stroke-width="0.35"/>
<circle cx="223.0" cy="97.6" r="1.55" fill="#a3d9a5" stroke="#fff" stroke-width="0.35"/>
<circle cx="229.8" cy="111.7" r="1.55" fill="#a3d9a5" stroke="#fff" stroke-width="0.35"/>
<circle cx="223.8" cy="99.4" r="1.55" fill="#a3d9a5" stroke="#fff" stroke-width="0.35"/>
<circle cx="226.2" cy="112.1" r="1.55" fill="#a3d9a5" stroke="#fff" stroke-width="0.35"/>
<circle cx="230.2" cy="112.2" r="1.55" fill="#a3d9a5" stroke="#fff" stroke-width="0.35"/>
<circle cx="227.9" cy="98.4" r="1.55" fill="#a3d9a5" stroke="#fff" stroke-width="0.35"/>
<circle cx="226.0" cy="99.5" r="1.55" fill="#a3d9a5" stroke="#fff" stroke-width="0.35"/>
<circle cx="227.3" cy="108.1" r="1.55" fill="#a3d9a5" stroke="#fff" stroke-width="0.35"/>
<circle cx="224.0" cy="100.8" r="1.55" fill="#a3d9a5" stroke="#fff" stroke-width="0.35"/>
<circle cx="198.0" cy="92.6" r="1.55" fill="#a3d9a5" stroke="#fff" stroke-width="0.35"/>
<circle cx="206.9" cy="93.1" r="1.55" fill="#a3d9a5" stroke="#fff" stroke-width="0.35"/>
<circle cx="218.5" cy="93.7" r="1.55" fill="#a3d9a5" stroke="#fff" stroke-width="0.35"/>
<circle cx="213.5" cy="95.9" r="1.55" fill="#a3d9a5" stroke="#fff" stroke-width="0.35"/>
<circle cx="224.6" cy="95.9" r="1.55" fill="#a3d9a5" stroke="#fff" stroke-width="0.35"/>
<circle cx="227.9" cy="95.4" r="1.55" fill="#a3d9a5" stroke="#fff" stroke-width="0.35"/>
<circle cx="240.0" cy="96.5" r="1.55" fill="#a3d9a5" stroke="#fff" stroke-width="0.35"/>
<circle cx="242.2" cy="97.6" r="1.55" fill="#a3d9a5" stroke="#fff" stroke-width="0.35"/>
<circle cx="195.8" cy="95.4" r="1.55" fill="#a3d9a5" stroke="#fff" stroke-width="0.35"/>
<circle cx="200.3" cy="96.5" r="1.55" fill="#a3d9a5" stroke="#fff" stroke-width="0.35"/>
<circle cx="203.6" cy="94.3" r="1.55" fill="#a3d9a5" stroke="#fff" stroke-width="0.35"/>
<circle cx="194.7" cy="93.1" r="1.55" fill="#a3d9a5" stroke="#fff" stroke-width="0.35"/>
<line x1="193.9" y1="109.6" x2="350.1" y2="27.2" stroke="#4a4a4a" stroke-width="1"/>
<circle cx="229.1" cy="18.1" r="1.6" fill="#f59b52" stroke="#fff" stroke-width="0.3"/>
<circle cx="221.5" cy="22.3" r="1.6" fill="#f59b52" stroke="#fff" stroke-width="0.3"/>
<circle cx="219.4" cy="24.5" r="1.6" fill="#f59b52" stroke="#fff" stroke-width="0.3"/>
<circle cx="233.6" cy="25.2" r="1.6" fill="#f59b52" stroke="#fff" stroke-width="0.3"/>
<circle cx="227.3" cy="28.4" r="1.6" fill="#f59b52" stroke="#fff" stroke-width="0.3"/>
<circle cx="228.0" cy="33.4" r="1.6" fill="#f59b52" stroke="#fff" stroke-width="0.3"/>
<circle cx="228.3" cy="37.5" r="1.6" fill="#f59b52" stroke="#fff" stroke-width="0.3"/>
<circle cx="225.7" cy="40.4" r="1.6" fill="#f59b52" stroke="#fff" stroke-width="0.3"/>
<circle cx="227.9" cy="42.2" r="1.6" fill="#f59b52" stroke="#fff" stroke-width="0.3"/>
<circle cx="232.4" cy="38.3" r="1.6" fill="#f59b52" stroke="#fff" stroke-width="0.3"/>
<circle cx="230.0" cy="47.1" r="1.6" fill="#f59b52" stroke="#fff" stroke-width="0.3"/>
<circle cx="214.3" cy="49.4" r="1.6" fill="#f59b52" stroke="#fff" stroke-width="0.3"/>
<circle cx="219.7" cy="57.0" r="1.6" fill="#f59b52" stroke="#fff" stroke-width="0.3"/>
<circle cx="240.5" cy="22.2" r="1.6" fill="#f59b52" stroke="#fff" stroke-width="0.3"/>
<circle cx="243.1" cy="23.4" r="1.6" fill="#f59b52" stroke="#fff" stroke-width="0.3"/>
<circle cx="244.7" cy="20.8" r="1.6" fill="#f59b52" stroke="#fff" stroke-width="0.3"/>
<circle cx="247.5" cy="15.0" r="1.6" fill="#f59b52" stroke="#fff" stroke-width="0.3"/>
<circle cx="243.4" cy="31.9" r="1.6" fill="#f59b52" stroke="#fff" stroke-width="0.3"/>
<circle cx="247.5" cy="34.5" r="1.6" fill="#f59b52" stroke="#fff" stroke-width="0.3"/>
<circle cx="253.1" cy="21.3" r="1.6" fill="#f59b52" stroke="#fff" stroke-width="0.3"/>
<circle cx="258.4" cy="25.8" r="1.6" fill="#f59b52" stroke="#fff" stroke-width="0.3"/>
<circle cx="258.3" cy="29.0" r="1.6" fill="#f59b52" stroke="#fff" stroke-width="0.3"/>
<circle cx="260.1" cy="20.8" r="1.6" fill="#f59b52" stroke="#fff" stroke-width="0.3"/>
<circle cx="268.0" cy="32.1" r="1.6" fill="#f59b52" stroke="#fff" stroke-width="0.3"/>
<circle cx="269.4" cy="17.9" r="1.6" fill="#f59b52" stroke="#fff" stroke-width="0.3"/>
<circle cx="274.4" cy="18.1" r="1.6" fill="#f59b52" stroke="#fff" stroke-width="0.3"/>
<circle cx="250.1" cy="41.5" r="1.6" fill="#f59b52" stroke="#fff" stroke-width="0.3"/>
<circle cx="251.9" cy="41.0" r="1.6" fill="#f59b52" stroke="#fff" stroke-width="0.3"/>
<circle cx="256.6" cy="46.0" r="1.6" fill="#f59b52" stroke="#fff" stroke-width="0.3"/>
<circle cx="254.6" cy="48.0" r="1.6" fill="#f59b52" stroke="#fff" stroke-width="0.3"/>
<circle cx="243.5" cy="51.4" r="1.6" fill="#f59b52" stroke="#fff" stroke-width="0.3"/>
<circle cx="257.5" cy="58.5" r="1.6" fill="#f59b52" stroke="#fff" stroke-width="0.3"/>
<circle cx="270.4" cy="40.3" r="1.6" fill="#f59b52" stroke="#fff" stroke-width="0.3"/>
<circle cx="273.2" cy="44.5" r="1.6" fill="#f59b52" stroke="#fff" stroke-width="0.3"/>
<circle cx="275.9" cy="17.9" r="1.6" fill="#f59b52" stroke="#fff" stroke-width="0.3"/>
<circle cx="276.4" cy="20.8" r="1.6" fill="#f59b52" stroke="#fff" stroke-width="0.3"/>
<circle cx="281.0" cy="18.7" r="1.6" fill="#f59b52" stroke="#fff" stroke-width="0.3"/>
<circle cx="284.5" cy="19.4" r="1.6" fill="#f59b52" stroke="#fff" stroke-width="0.3"/>
<circle cx="279.4" cy="24.8" r="1.6" fill="#f59b52" stroke="#fff" stroke-width="0.3"/>
<circle cx="284.8" cy="24.5" r="1.6" fill="#f59b52" stroke="#fff" stroke-width="0.3"/>
<circle cx="285.7" cy="25.8" r="1.6" fill="#f59b52" stroke="#fff" stroke-width="0.3"/>
<circle cx="278.4" cy="43.5" r="1.6" fill="#f59b52" stroke="#fff" stroke-width="0.3"/>
<circle cx="281.7" cy="52.4" r="1.6" fill="#f59b52" stroke="#fff" stroke-width="0.3"/>
<circle cx="277.9" cy="54.4" r="1.6" fill="#f59b52" stroke="#fff" stroke-width="0.3"/>
<circle cx="311.8" cy="58.2" r="1.6" fill="#f59b52" stroke="#fff" stroke-width="0.3"/>
<circle cx="316.7" cy="13.2" r="1.6" fill="#f59b52" stroke="#fff" stroke-width="0.3"/>
<circle cx="324.0" cy="25.4" r="1.6" fill="#f59b52" stroke="#fff" stroke-width="0.3"/>
<circle cx="333.7" cy="20.5" r="1.6" fill="#f59b52" stroke="#fff" stroke-width="0.3"/>
<circle cx="347.4" cy="21.7" r="1.6" fill="#f59b52" stroke="#fff" stroke-width="0.3"/>
<circle cx="316.4" cy="43.0" r="1.6" fill="#f59b52" stroke="#fff" stroke-width="0.3"/>
<circle cx="346.3" cy="44.8" r="1.6" fill="#f59b52" stroke="#fff" stroke-width="0.3"/>
<circle cx="213.7" cy="21.4" r="1.6" fill="#fcd25e" stroke="#fff" stroke-width="0.3"/>
<circle cx="302.5" cy="114.6" r="2.2" fill="#a3d9a5"/>
<text x="308.8" y="116.8" font-size="6.3" text-anchor="start" fill="#231f20" font-weight="normal" >Cortex</text>
<circle cx="302.5" cy="121.7" r="2.2" fill="#fcd25e"/>
<text x="308.8" y="123.9" font-size="6.3" text-anchor="start" fill="#231f20" font-weight="normal" >Hypothalamus</text>
<circle cx="302.5" cy="129" r="2.2" fill="#f59b52"/>
<text x="308.8" y="131.2" font-size="6.3" text-anchor="start" fill="#231f20" font-weight="normal" >Subcortex</text>
<defs><linearGradient id="grayg" x1="0" y1="0" x2="0.7" y2="1"><stop offset="0" stop-color="#d6d6d6"/><stop offset="1" stop-color="#b4b4b4"/></linearGradient></defs>
<defs><filter id="bl" x="-20%" y="-20%" width="140%" height="140%"><feGaussianBlur stdDeviation="1.1"/></filter><filter id="bl2" x="-20%" y="-20%" width="140%" height="140%"><feGaussianBlur stdDeviation="0.6"/></filter></defs>
<clipPath id="cprl"><path d="M380.60 50.90 C380.98 53.43 381.83 58.10 383.60 60.00 C385.37 61.90 388.67 61.67 391.20 62.30 C393.73 62.93 397.28 62.42 398.80 63.80 C400.32 65.18 399.03 69.08 400.30 70.60 C401.57 72.12 402.85 72.95 406.40 72.90 C409.95 72.85 416.53 71.95 421.60 70.30 C426.67 68.65 432.87 65.60 436.80 63.00 C440.73 60.40 443.55 57.48 445.20 54.70 C446.85 51.92 447.08 49.22 446.70 46.30 C446.32 43.38 444.55 39.85 442.90 37.20 C441.25 34.55 439.58 32.17 436.80 30.40 C434.02 28.63 430.00 27.18 426.20 26.60 C422.40 26.02 417.80 26.53 414.00 26.90 C410.20 27.27 406.95 27.85 403.40 28.80 C399.85 29.75 395.75 30.95 392.70 32.60 C389.65 34.25 387.00 36.67 385.10 38.70 C383.20 40.73 382.05 42.77 381.30 44.80 C380.55 46.83 380.22 48.37 380.60 50.90 Z"/></clipPath>
<g clip-path="url(#cprl)">
<path d="M380.60 50.90 C380.98 53.43 381.83 58.10 383.60 60.00 C385.37 61.90 388.67 61.67 391.20 62.30 C393.73 62.93 397.28 62.42 398.80 63.80 C400.32 65.18 399.03 69.08 400.30 70.60 C401.57 72.12 402.85 72.95 406.40 72.90 C409.95 72.85 416.53 71.95 421.60 70.30 C426.67 68.65 432.87 65.60 436.80 63.00 C440.73 60.40 443.55 57.48 445.20 54.70 C446.85 51.92 447.08 49.22 446.70 46.30 C446.32 43.38 444.55 39.85 442.90 37.20 C441.25 34.55 439.58 32.17 436.80 30.40 C434.02 28.63 430.00 27.18 426.20 26.60 C422.40 26.02 417.80 26.53 414.00 26.90 C410.20 27.27 406.95 27.85 403.40 28.80 C399.85 29.75 395.75 30.95 392.70 32.60 C389.65 34.25 387.00 36.67 385.10 38.70 C383.20 40.73 382.05 42.77 381.30 44.80 C380.55 46.83 380.22 48.37 380.60 50.90 Z" fill="#f4e9d8"/>
<g filter="url(#bl)">
<ellipse cx="420.00" cy="45.00" rx="11" ry="9" fill="#f3d0be" transform="rotate(0 420.00 45.00)"/>
<ellipse cx="423.00" cy="56.00" rx="8" ry="3" fill="#f2c0aa" transform="rotate(0 423.00 56.00)"/>
<ellipse cx="383.50" cy="51.00" rx="3.5" ry="9" fill="#7fb8af" transform="rotate(0 383.50 51.00)"/>
<ellipse cx="398.00" cy="45.50" rx="8.5" ry="9" fill="#f0a488" transform="rotate(0 398.00 45.50)"/>
<ellipse cx="392.00" cy="38.00" rx="4" ry="3" fill="#f3c0ab" transform="rotate(0 392.00 38.00)"/>
<ellipse cx="396.50" cy="59.00" rx="5.5" ry="5" fill="#e6602f" transform="rotate(0 396.50 59.00)"/>
<ellipse cx="408.50" cy="46.50" rx="4" ry="6" fill="#7fb8af" transform="rotate(0 408.50 46.50)"/>
<ellipse cx="402.00" cy="35.00" rx="4" ry="3.5" fill="#f4e9d8" transform="rotate(0 402.00 35.00)"/>
<ellipse cx="390.00" cy="35.50" rx="6" ry="3.5" fill="#9cc5bb" transform="rotate(0 390.00 35.50)"/>
<ellipse cx="425.00" cy="27.50" rx="7" ry="3" fill="#7fb8af" transform="rotate(0 425.00 27.50)"/>
<ellipse cx="430.00" cy="33.50" rx="4.5" ry="3" fill="#ee9070" transform="rotate(0 430.00 33.50)"/>
<ellipse cx="435.00" cy="43.00" rx="4" ry="5" fill="#ee9070" transform="rotate(0 435.00 43.00)"/>
<ellipse cx="443.50" cy="51.00" rx="3.5" ry="4.5" fill="#7fb8af" transform="rotate(0 443.50 51.00)"/>
<ellipse cx="418.00" cy="68.00" rx="15" ry="4.5" fill="#7fb8af" transform="rotate(0 418.00 68.00)"/>
<ellipse cx="436.00" cy="59.00" rx="6" ry="3" fill="#f4cdbc" transform="rotate(0 436.00 59.00)"/>
<ellipse cx="420.00" cy="48.00" rx="5" ry="3" fill="#f4cdbc" transform="rotate(0 420.00 48.00)"/>
<ellipse cx="394.00" cy="66.00" rx="3" ry="3" fill="#f3d9c9" transform="rotate(0 394.00 66.00)"/>
</g>
<path d="M397.00 60.00 C398.33 59.25 402.17 56.75 405.00 55.50 C407.83 54.25 410.83 53.33 414.00 52.50 C417.17 51.67 420.83 50.83 424.00 50.50 C427.17 50.17 431.50 50.50 433.00 50.50 " fill="none" stroke="#3b3530" stroke-width="2.86" stroke-opacity="0.25" stroke-linecap="round" filter="url(#bl)"/>
<path d="M397.00 60.00 C398.33 59.25 402.17 56.75 405.00 55.50 C407.83 54.25 410.83 53.33 414.00 52.50 C417.17 51.67 420.83 50.83 424.00 50.50 C427.17 50.17 431.50 50.50 433.00 50.50 " fill="none" stroke="#2b2b2b" stroke-width="1.04" stroke-opacity="0.55" stroke-linecap="round" filter="url(#bl2)"/>
<path d="M402.00 66.50 C403.83 65.83 409.17 63.75 413.00 62.50 C416.83 61.25 421.00 59.92 425.00 59.00 C429.00 58.08 435.00 57.33 437.00 57.00 " fill="none" stroke="#3b3530" stroke-width="1.98" stroke-opacity="0.20" stroke-linecap="round" filter="url(#bl)"/>
<path d="M402.00 66.50 C403.83 65.83 409.17 63.75 413.00 62.50 C416.83 61.25 421.00 59.92 425.00 59.00 C429.00 58.08 435.00 57.33 437.00 57.00 " fill="none" stroke="#2b2b2b" stroke-width="0.72" stroke-opacity="0.45" stroke-linecap="round" filter="url(#bl2)"/>
<path d="M419.50 28.50 C419.25 29.75 418.75 33.58 418.00 36.00 C417.25 38.42 416.00 40.67 415.00 43.00 C414.00 45.33 412.50 48.83 412.00 50.00 " fill="none" stroke="#3b3530" stroke-width="2.42" stroke-opacity="0.23" stroke-linecap="round" filter="url(#bl)"/>
<path d="M419.50 28.50 C419.25 29.75 418.75 33.58 418.00 36.00 C417.25 38.42 416.00 40.67 415.00 43.00 C414.00 45.33 412.50 48.83 412.00 50.00 " fill="none" stroke="#2b2b2b" stroke-width="0.88" stroke-opacity="0.50" stroke-linecap="round" filter="url(#bl2)"/>
<path d="M426.00 31.00 C425.83 32.50 425.83 37.17 425.00 40.00 C424.17 42.83 421.67 46.67 421.00 48.00 " fill="none" stroke="#3b3530" stroke-width="2.20" stroke-opacity="0.20" stroke-linecap="round" filter="url(#bl)"/>
<path d="M426.00 31.00 C425.83 32.50 425.83 37.17 425.00 40.00 C424.17 42.83 421.67 46.67 421.00 48.00 " fill="none" stroke="#2b2b2b" stroke-width="0.80" stroke-opacity="0.45" stroke-linecap="round" filter="url(#bl2)"/>
<path d="M389.00 40.00 C390.17 39.42 393.50 37.67 396.00 36.50 C398.50 35.33 402.67 33.58 404.00 33.00 " fill="none" stroke="#3b3530" stroke-width="1.98" stroke-opacity="0.18" stroke-linecap="round" filter="url(#bl)"/>
<path d="M389.00 40.00 C390.17 39.42 393.50 37.67 396.00 36.50 C398.50 35.33 402.67 33.58 404.00 33.00 " fill="none" stroke="#2b2b2b" stroke-width="0.72" stroke-opacity="0.40" stroke-linecap="round" filter="url(#bl2)"/>
<path d="M385.00 50.00 C386.33 49.50 390.33 47.83 393.00 47.00 C395.67 46.17 399.67 45.33 401.00 45.00 " fill="none" stroke="#3b3530" stroke-width="1.98" stroke-opacity="0.18" stroke-linecap="round" filter="url(#bl)"/>
<path d="M385.00 50.00 C386.33 49.50 390.33 47.83 393.00 47.00 C395.67 46.17 399.67 45.33 401.00 45.00 " fill="none" stroke="#2b2b2b" stroke-width="0.72" stroke-opacity="0.40" stroke-linecap="round" filter="url(#bl2)"/>
<path d="M430.00 36.00 C430.67 37.00 432.83 39.67 434.00 42.00 C435.17 44.33 436.50 48.67 437.00 50.00 " fill="none" stroke="#3b3530" stroke-width="1.76" stroke-opacity="0.16" stroke-linecap="round" filter="url(#bl)"/>
<path d="M430.00 36.00 C430.67 37.00 432.83 39.67 434.00 42.00 C435.17 44.33 436.50 48.67 437.00 50.00 " fill="none" stroke="#2b2b2b" stroke-width="0.64" stroke-opacity="0.35" stroke-linecap="round" filter="url(#bl2)"/>
<path d="M388.00 56.00 C389.17 55.50 392.67 53.67 395.00 53.00 C397.33 52.33 400.83 52.17 402.00 52.00 " fill="none" stroke="#3b3530" stroke-width="1.76" stroke-opacity="0.16" stroke-linecap="round" filter="url(#bl)"/>
<path d="M388.00 56.00 C389.17 55.50 392.67 53.67 395.00 53.00 C397.33 52.33 400.83 52.17 402.00 52.00 " fill="none" stroke="#2b2b2b" stroke-width="0.64" stroke-opacity="0.35" stroke-linecap="round" filter="url(#bl2)"/>
<path d="M406.00 34.00 C405.83 35.33 405.50 39.33 405.00 42.00 C404.50 44.67 403.33 48.67 403.00 50.00 " fill="none" stroke="#3b3530" stroke-width="1.76" stroke-opacity="0.16" stroke-linecap="round" filter="url(#bl)"/>
<path d="M406.00 34.00 C405.83 35.33 405.50 39.33 405.00 42.00 C404.50 44.67 403.33 48.67 403.00 50.00 " fill="none" stroke="#2b2b2b" stroke-width="0.64" stroke-opacity="0.35" stroke-linecap="round" filter="url(#bl2)"/>
<path d="M432.00 30.00 C433.33 31.00 438.00 33.67 440.00 36.00 C442.00 38.33 443.33 42.67 444.00 44.00 " fill="none" stroke="#3b3530" stroke-width="1.76" stroke-opacity="0.16" stroke-linecap="round" filter="url(#bl)"/>
<path d="M432.00 30.00 C433.33 31.00 438.00 33.67 440.00 36.00 C442.00 38.33 443.33 42.67 444.00 44.00 " fill="none" stroke="#2b2b2b" stroke-width="0.64" stroke-opacity="0.35" stroke-linecap="round" filter="url(#bl2)"/>
<path d="M380.60 50.90 C380.98 53.43 381.83 58.10 383.60 60.00 C385.37 61.90 388.67 61.67 391.20 62.30 C393.73 62.93 397.28 62.42 398.80 63.80 C400.32 65.18 399.03 69.08 400.30 70.60 C401.57 72.12 402.85 72.95 406.40 72.90 C409.95 72.85 416.53 71.95 421.60 70.30 C426.67 68.65 432.87 65.60 436.80 63.00 C440.73 60.40 443.55 57.48 445.20 54.70 C446.85 51.92 447.08 49.22 446.70 46.30 C446.32 43.38 444.55 39.85 442.90 37.20 C441.25 34.55 439.58 32.17 436.80 30.40 C434.02 28.63 430.00 27.18 426.20 26.60 C422.40 26.02 417.80 26.53 414.00 26.90 C410.20 27.27 406.95 27.85 403.40 28.80 C399.85 29.75 395.75 30.95 392.70 32.60 C389.65 34.25 387.00 36.67 385.10 38.70 C383.20 40.73 382.05 42.77 381.30 44.80 C380.55 46.83 380.22 48.37 380.60 50.90 Z" fill="none" stroke="#2a3a38" stroke-width="3.6" stroke-opacity="0.5" filter="url(#bl)"/>
</g>
<path d="M380.60 50.90 C380.98 53.43 381.83 58.10 383.60 60.00 C385.37 61.90 388.67 61.67 391.20 62.30 C393.73 62.93 397.28 62.42 398.80 63.80 C400.32 65.18 399.03 69.08 400.30 70.60 C401.57 72.12 402.85 72.95 406.40 72.90 C409.95 72.85 416.53 71.95 421.60 70.30 C426.67 68.65 432.87 65.60 436.80 63.00 C440.73 60.40 443.55 57.48 445.20 54.70 C446.85 51.92 447.08 49.22 446.70 46.30 C446.32 43.38 444.55 39.85 442.90 37.20 C441.25 34.55 439.58 32.17 436.80 30.40 C434.02 28.63 430.00 27.18 426.20 26.60 C422.40 26.02 417.80 26.53 414.00 26.90 C410.20 27.27 406.95 27.85 403.40 28.80 C399.85 29.75 395.75 30.95 392.70 32.60 C389.65 34.25 387.00 36.67 385.10 38.70 C383.20 40.73 382.05 42.77 381.30 44.80 C380.55 46.83 380.22 48.37 380.60 50.90 Z" fill="none" stroke="#3a3a3a" stroke-width="0.7"/>
<clipPath id="cprm"><path d="M453.00 53.90 C452.75 50.35 454.07 44.12 456.10 40.20 C458.13 36.28 461.92 32.67 465.20 30.40 C468.48 28.13 472.00 27.12 475.80 26.60 C479.60 26.08 483.68 26.55 488.00 27.30 C492.32 28.05 497.65 29.45 501.70 31.10 C505.75 32.75 509.65 34.67 512.30 37.20 C514.95 39.73 516.83 43.00 517.60 46.30 C518.37 49.60 518.03 54.22 516.90 57.00 C515.77 59.78 513.58 61.48 510.80 63.00 C508.02 64.52 502.23 64.83 500.20 66.10 C498.17 67.37 499.87 69.58 498.60 70.60 C497.33 71.62 495.63 72.70 492.60 72.20 C489.57 71.70 484.47 68.87 480.40 67.60 C476.33 66.33 472.00 65.62 468.20 64.60 C464.40 63.58 460.13 63.28 457.60 61.50 C455.07 59.72 453.25 57.45 453.00 53.90 Z"/></clipPath>
<g clip-path="url(#cprm)">
<path d="M453.00 53.90 C452.75 50.35 454.07 44.12 456.10 40.20 C458.13 36.28 461.92 32.67 465.20 30.40 C468.48 28.13 472.00 27.12 475.80 26.60 C479.60 26.08 483.68 26.55 488.00 27.30 C492.32 28.05 497.65 29.45 501.70 31.10 C505.75 32.75 509.65 34.67 512.30 37.20 C514.95 39.73 516.83 43.00 517.60 46.30 C518.37 49.60 518.03 54.22 516.90 57.00 C515.77 59.78 513.58 61.48 510.80 63.00 C508.02 64.52 502.23 64.83 500.20 66.10 C498.17 67.37 499.87 69.58 498.60 70.60 C497.33 71.62 495.63 72.70 492.60 72.20 C489.57 71.70 484.47 68.87 480.40 67.60 C476.33 66.33 472.00 65.62 468.20 64.60 C464.40 63.58 460.13 63.28 457.60 61.50 C455.07 59.72 453.25 57.45 453.00 53.90 Z" fill="#f2b197"/>
<g filter="url(#bl)">
<ellipse cx="456.50" cy="47.00" rx="5" ry="13" fill="#7fb8af" transform="rotate(0 456.50 47.00)"/>
<ellipse cx="468.00" cy="30.50" rx="11" ry="4.5" fill="#7fb8af" transform="rotate(0 468.00 30.50)"/>
<ellipse cx="462.00" cy="38.00" rx="3" ry="3" fill="#f4e9d8" transform="rotate(0 462.00 38.00)"/>
<ellipse cx="461.00" cy="55.00" rx="3" ry="3" fill="#f4e9d8" transform="rotate(0 461.00 55.00)"/>
<ellipse cx="486.00" cy="29.50" rx="7" ry="2.5" fill="#f3cbb8" transform="rotate(0 486.00 29.50)"/>
<ellipse cx="501.00" cy="38.00" rx="8" ry="6" fill="#ee8860" transform="rotate(0 501.00 38.00)"/>
<ellipse cx="488.00" cy="42.00" rx="10" ry="3.5" fill="#ef9772" transform="rotate(0 488.00 42.00)"/>
<ellipse cx="512.00" cy="52.00" rx="5" ry="10" fill="#f1a081" transform="rotate(0 512.00 52.00)"/>
<ellipse cx="472.00" cy="45.00" rx="4.5" ry="5" fill="#f0a488" transform="rotate(0 472.00 45.00)"/>
<ellipse cx="469.00" cy="60.00" rx="5" ry="3.5" fill="#f3d8c6" transform="rotate(0 469.00 60.00)"/>
<ellipse cx="459.00" cy="60.00" rx="3.5" ry="3.5" fill="#7fb8af" transform="rotate(0 459.00 60.00)"/>
<ellipse cx="504.00" cy="63.00" rx="8" ry="3" fill="#ee9070" transform="rotate(0 504.00 63.00)"/>
<ellipse cx="478.00" cy="66.00" rx="8" ry="2.5" fill="#f0c4b0" transform="rotate(0 478.00 66.00)"/>
<ellipse cx="492.00" cy="71.00" rx="5" ry="2" fill="#9fbcb5" transform="rotate(0 492.00 71.00)"/>
</g>
<path d="M465.00 40.00 C466.33 39.42 470.17 37.33 473.00 36.50 C475.83 35.67 480.50 35.25 482.00 35.00 " fill="none" stroke="#3b3530" stroke-width="1.54" stroke-opacity="0.18" stroke-linecap="round" filter="url(#bl)"/>
<path d="M465.00 40.00 C466.33 39.42 470.17 37.33 473.00 36.50 C475.83 35.67 480.50 35.25 482.00 35.00 " fill="none" stroke="#2b2b2b" stroke-width="0.56" stroke-opacity="0.40" stroke-linecap="round" filter="url(#bl2)"/>
<path d="M468.00 52.00 C468.67 51.17 470.33 48.33 472.00 47.00 C473.67 45.67 477.00 44.50 478.00 44.00 " fill="none" stroke="#3b3530" stroke-width="1.32" stroke-opacity="0.16" stroke-linecap="round" filter="url(#bl)"/>
<path d="M468.00 52.00 C468.67 51.17 470.33 48.33 472.00 47.00 C473.67 45.67 477.00 44.50 478.00 44.00 " fill="none" stroke="#2b2b2b" stroke-width="0.48" stroke-opacity="0.35" stroke-linecap="round" filter="url(#bl2)"/>
<path d="M475.00 53.00 C475.58 51.50 476.33 49.58 478.00 48.50 C479.67 47.42 482.17 46.67 485.00 46.50 C487.83 46.33 492.00 47.00 495.00 47.50 C498.00 48.00 500.92 48.42 503.00 49.50 C505.08 50.58 506.83 52.25 507.50 54.00 C508.17 55.75 507.92 58.25 507.00 60.00 C506.08 61.75 503.33 63.08 502.00 64.50 C500.67 65.92 500.17 67.50 499.00 68.50 C497.83 69.50 496.50 70.42 495.00 70.50 C493.50 70.58 491.83 69.83 490.00 69.00 C488.17 68.17 486.17 66.67 484.00 65.50 C481.83 64.33 478.58 63.33 477.00 62.00 C475.42 60.67 474.83 59.00 474.50 57.50 C474.17 56.00 474.42 54.50 475.00 53.00 Z" fill="url(#grayg)"/>
<path d="M475.00 53.00 C475.58 51.50 476.33 49.58 478.00 48.50 C479.67 47.42 482.17 46.67 485.00 46.50 C487.83 46.33 492.00 47.00 495.00 47.50 C498.00 48.00 500.92 48.42 503.00 49.50 C505.08 50.58 506.83 52.25 507.50 54.00 C508.17 55.75 507.92 58.25 507.00 60.00 C506.08 61.75 503.33 63.08 502.00 64.50 C500.67 65.92 500.17 67.50 499.00 68.50 C497.83 69.50 496.50 70.42 495.00 70.50 C493.50 70.58 491.83 69.83 490.00 69.00 C488.17 68.17 486.17 66.67 484.00 65.50 C481.83 64.33 478.58 63.33 477.00 62.00 C475.42 60.67 474.83 59.00 474.50 57.50 C474.17 56.00 474.42 54.50 475.00 53.00 Z" fill="none" stroke="#8a8a8a" stroke-width="0.6" stroke-opacity="0.6"/>
<path d="M453.00 53.90 C452.75 50.35 454.07 44.12 456.10 40.20 C458.13 36.28 461.92 32.67 465.20 30.40 C468.48 28.13 472.00 27.12 475.80 26.60 C479.60 26.08 483.68 26.55 488.00 27.30 C492.32 28.05 497.65 29.45 501.70 31.10 C505.75 32.75 509.65 34.67 512.30 37.20 C514.95 39.73 516.83 43.00 517.60 46.30 C518.37 49.60 518.03 54.22 516.90 57.00 C515.77 59.78 513.58 61.48 510.80 63.00 C508.02 64.52 502.23 64.83 500.20 66.10 C498.17 67.37 499.87 69.58 498.60 70.60 C497.33 71.62 495.63 72.70 492.60 72.20 C489.57 71.70 484.47 68.87 480.40 67.60 C476.33 66.33 472.00 65.62 468.20 64.60 C464.40 63.58 460.13 63.28 457.60 61.50 C455.07 59.72 453.25 57.45 453.00 53.90 Z" fill="none" stroke="#2a3a38" stroke-width="3.6" stroke-opacity="0.5" filter="url(#bl)"/>
</g>
<path d="M453.00 53.90 C452.75 50.35 454.07 44.12 456.10 40.20 C458.13 36.28 461.92 32.67 465.20 30.40 C468.48 28.13 472.00 27.12 475.80 26.60 C479.60 26.08 483.68 26.55 488.00 27.30 C492.32 28.05 497.65 29.45 501.70 31.10 C505.75 32.75 509.65 34.67 512.30 37.20 C514.95 39.73 516.83 43.00 517.60 46.30 C518.37 49.60 518.03 54.22 516.90 57.00 C515.77 59.78 513.58 61.48 510.80 63.00 C508.02 64.52 502.23 64.83 500.20 66.10 C498.17 67.37 499.87 69.58 498.60 70.60 C497.33 71.62 495.63 72.70 492.60 72.20 C489.57 71.70 484.47 68.87 480.40 67.60 C476.33 66.33 472.00 65.62 468.20 64.60 C464.40 63.58 460.13 63.28 457.60 61.50 C455.07 59.72 453.25 57.45 453.00 53.90 Z" fill="none" stroke="#3a3a3a" stroke-width="0.7"/>
<clipPath id="cptl"><path d="M542.90 50.90 C543.28 53.43 544.13 58.10 545.90 60.00 C547.67 61.90 550.97 61.67 553.50 62.30 C556.03 62.93 559.58 62.42 561.10 63.80 C562.62 65.18 561.33 69.08 562.60 70.60 C563.87 72.12 565.15 72.95 568.70 72.90 C572.25 72.85 578.83 71.95 583.90 70.30 C588.97 68.65 595.17 65.60 599.10 63.00 C603.03 60.40 605.85 57.48 607.50 54.70 C609.15 51.92 609.38 49.22 609.00 46.30 C608.62 43.38 606.85 39.85 605.20 37.20 C603.55 34.55 601.88 32.17 599.10 30.40 C596.32 28.63 592.30 27.18 588.50 26.60 C584.70 26.02 580.10 26.53 576.30 26.90 C572.50 27.27 569.25 27.85 565.70 28.80 C562.15 29.75 558.05 30.95 555.00 32.60 C551.95 34.25 549.30 36.67 547.40 38.70 C545.50 40.73 544.35 42.77 543.60 44.80 C542.85 46.83 542.52 48.37 542.90 50.90 Z"/></clipPath>
<g clip-path="url(#cptl)">
<path d="M542.90 50.90 C543.28 53.43 544.13 58.10 545.90 60.00 C547.67 61.90 550.97 61.67 553.50 62.30 C556.03 62.93 559.58 62.42 561.10 63.80 C562.62 65.18 561.33 69.08 562.60 70.60 C563.87 72.12 565.15 72.95 568.70 72.90 C572.25 72.85 578.83 71.95 583.90 70.30 C588.97 68.65 595.17 65.60 599.10 63.00 C603.03 60.40 605.85 57.48 607.50 54.70 C609.15 51.92 609.38 49.22 609.00 46.30 C608.62 43.38 606.85 39.85 605.20 37.20 C603.55 34.55 601.88 32.17 599.10 30.40 C596.32 28.63 592.30 27.18 588.50 26.60 C584.70 26.02 580.10 26.53 576.30 26.90 C572.50 27.27 569.25 27.85 565.70 28.80 C562.15 29.75 558.05 30.95 555.00 32.60 C551.95 34.25 549.30 36.67 547.40 38.70 C545.50 40.73 544.35 42.77 543.60 44.80 C542.85 46.83 542.52 48.37 542.90 50.90 Z" fill="#f6e6d5"/>
<g filter="url(#bl)">
<ellipse cx="548.30" cy="52.00" rx="3.5" ry="7" fill="#d0dccf" transform="rotate(0 548.30 52.00)"/>
<ellipse cx="554.30" cy="48.00" rx="5" ry="5" fill="#a3c9bf" transform="rotate(0 554.30 48.00)"/>
<ellipse cx="561.30" cy="60.00" rx="6.5" ry="4" fill="#f3ad90" transform="rotate(0 561.30 60.00)"/>
<ellipse cx="579.30" cy="33.00" rx="7" ry="5" fill="#8fbdb3" transform="rotate(0 579.30 33.00)"/>
<ellipse cx="596.30" cy="47.00" rx="5.5" ry="6.5" fill="#a3c9bf" transform="rotate(0 596.30 47.00)"/>
<ellipse cx="576.30" cy="51.00" rx="5" ry="2.5" fill="#a3c9bf" transform="rotate(0 576.30 51.00)"/>
<ellipse cx="605.30" cy="55.00" rx="3.5" ry="5" fill="#82b4a9" transform="rotate(0 605.30 55.00)"/>
<ellipse cx="574.30" cy="67.50" rx="14" ry="4.5" fill="#f6cdb9" transform="rotate(0 574.30 67.50)"/>
<ellipse cx="565.30" cy="40.00" rx="5" ry="3" fill="#f4dccd" transform="rotate(0 565.30 40.00)"/>
<ellipse cx="588.30" cy="58.00" rx="6" ry="2.5" fill="#f3d5c4" transform="rotate(0 588.30 58.00)"/>
</g>
<path d="M559.30 60.00 C560.63 59.25 564.47 56.75 567.30 55.50 C570.13 54.25 573.13 53.33 576.30 52.50 C579.47 51.67 583.13 50.83 586.30 50.50 C589.47 50.17 593.80 50.50 595.30 50.50 " fill="none" stroke="#3b3530" stroke-width="2.86" stroke-opacity="0.25" stroke-linecap="round" filter="url(#bl)"/>
<path d="M559.30 60.00 C560.63 59.25 564.47 56.75 567.30 55.50 C570.13 54.25 573.13 53.33 576.30 52.50 C579.47 51.67 583.13 50.83 586.30 50.50 C589.47 50.17 593.80 50.50 595.30 50.50 " fill="none" stroke="#2b2b2b" stroke-width="1.04" stroke-opacity="0.55" stroke-linecap="round" filter="url(#bl2)"/>
<path d="M564.30 66.50 C566.13 65.83 571.47 63.75 575.30 62.50 C579.13 61.25 583.30 59.92 587.30 59.00 C591.30 58.08 597.30 57.33 599.30 57.00 " fill="none" stroke="#3b3530" stroke-width="1.98" stroke-opacity="0.20" stroke-linecap="round" filter="url(#bl)"/>
<path d="M564.30 66.50 C566.13 65.83 571.47 63.75 575.30 62.50 C579.13 61.25 583.30 59.92 587.30 59.00 C591.30 58.08 597.30 57.33 599.30 57.00 " fill="none" stroke="#2b2b2b" stroke-width="0.72" stroke-opacity="0.45" stroke-linecap="round" filter="url(#bl2)"/>
<path d="M581.80 28.50 C581.55 29.75 581.05 33.58 580.30 36.00 C579.55 38.42 578.30 40.67 577.30 43.00 C576.30 45.33 574.80 48.83 574.30 50.00 " fill="none" stroke="#3b3530" stroke-width="2.42" stroke-opacity="0.23" stroke-linecap="round" filter="url(#bl)"/>
<path d="M581.80 28.50 C581.55 29.75 581.05 33.58 580.30 36.00 C579.55 38.42 578.30 40.67 577.30 43.00 C576.30 45.33 574.80 48.83 574.30 50.00 " fill="none" stroke="#2b2b2b" stroke-width="0.88" stroke-opacity="0.50" stroke-linecap="round" filter="url(#bl2)"/>
<path d="M588.30 31.00 C588.13 32.50 588.13 37.17 587.30 40.00 C586.47 42.83 583.97 46.67 583.30 48.00 " fill="none" stroke="#3b3530" stroke-width="2.20" stroke-opacity="0.20" stroke-linecap="round" filter="url(#bl)"/>
<path d="M588.30 31.00 C588.13 32.50 588.13 37.17 587.30 40.00 C586.47 42.83 583.97 46.67 583.30 48.00 " fill="none" stroke="#2b2b2b" stroke-width="0.80" stroke-opacity="0.45" stroke-linecap="round" filter="url(#bl2)"/>
<path d="M551.30 40.00 C552.47 39.42 555.80 37.67 558.30 36.50 C560.80 35.33 564.97 33.58 566.30 33.00 " fill="none" stroke="#3b3530" stroke-width="1.98" stroke-opacity="0.18" stroke-linecap="round" filter="url(#bl)"/>
<path d="M551.30 40.00 C552.47 39.42 555.80 37.67 558.30 36.50 C560.80 35.33 564.97 33.58 566.30 33.00 " fill="none" stroke="#2b2b2b" stroke-width="0.72" stroke-opacity="0.40" stroke-linecap="round" filter="url(#bl2)"/>
<path d="M547.30 50.00 C548.63 49.50 552.63 47.83 555.30 47.00 C557.97 46.17 561.97 45.33 563.30 45.00 " fill="none" stroke="#3b3530" stroke-width="1.98" stroke-opacity="0.18" stroke-linecap="round" filter="url(#bl)"/>
<path d="M547.30 50.00 C548.63 49.50 552.63 47.83 555.30 47.00 C557.97 46.17 561.97 45.33 563.30 45.00 " fill="none" stroke="#2b2b2b" stroke-width="0.72" stroke-opacity="0.40" stroke-linecap="round" filter="url(#bl2)"/>
<path d="M592.30 36.00 C592.97 37.00 595.13 39.67 596.30 42.00 C597.47 44.33 598.80 48.67 599.30 50.00 " fill="none" stroke="#3b3530" stroke-width="1.76" stroke-opacity="0.16" stroke-linecap="round" filter="url(#bl)"/>
<path d="M592.30 36.00 C592.97 37.00 595.13 39.67 596.30 42.00 C597.47 44.33 598.80 48.67 599.30 50.00 " fill="none" stroke="#2b2b2b" stroke-width="0.64" stroke-opacity="0.35" stroke-linecap="round" filter="url(#bl2)"/>
<path d="M550.30 56.00 C551.47 55.50 554.97 53.67 557.30 53.00 C559.63 52.33 563.13 52.17 564.30 52.00 " fill="none" stroke="#3b3530" stroke-width="1.76" stroke-opacity="0.16" stroke-linecap="round" filter="url(#bl)"/>
<path d="M550.30 56.00 C551.47 55.50 554.97 53.67 557.30 53.00 C559.63 52.33 563.13 52.17 564.30 52.00 " fill="none" stroke="#2b2b2b" stroke-width="0.64" stroke-opacity="0.35" stroke-linecap="round" filter="url(#bl2)"/>
<path d="M568.30 34.00 C568.13 35.33 567.80 39.33 567.30 42.00 C566.80 44.67 565.63 48.67 565.30 50.00 " fill="none" stroke="#3b3530" stroke-width="1.76" stroke-opacity="0.16" stroke-linecap="round" filter="url(#bl)"/>
<path d="M568.30 34.00 C568.13 35.33 567.80 39.33 567.30 42.00 C566.80 44.67 565.63 48.67 565.30 50.00 " fill="none" stroke="#2b2b2b" stroke-width="0.64" stroke-opacity="0.35" stroke-linecap="round" filter="url(#bl2)"/>
<path d="M594.30 30.00 C595.63 31.00 600.30 33.67 602.30 36.00 C604.30 38.33 605.63 42.67 606.30 44.00 " fill="none" stroke="#3b3530" stroke-width="1.76" stroke-opacity="0.16" stroke-linecap="round" filter="url(#bl)"/>
<path d="M594.30 30.00 C595.63 31.00 600.30 33.67 602.30 36.00 C604.30 38.33 605.63 42.67 606.30 44.00 " fill="none" stroke="#2b2b2b" stroke-width="0.64" stroke-opacity="0.35" stroke-linecap="round" filter="url(#bl2)"/>
<path d="M542.90 50.90 C543.28 53.43 544.13 58.10 545.90 60.00 C547.67 61.90 550.97 61.67 553.50 62.30 C556.03 62.93 559.58 62.42 561.10 63.80 C562.62 65.18 561.33 69.08 562.60 70.60 C563.87 72.12 565.15 72.95 568.70 72.90 C572.25 72.85 578.83 71.95 583.90 70.30 C588.97 68.65 595.17 65.60 599.10 63.00 C603.03 60.40 605.85 57.48 607.50 54.70 C609.15 51.92 609.38 49.22 609.00 46.30 C608.62 43.38 606.85 39.85 605.20 37.20 C603.55 34.55 601.88 32.17 599.10 30.40 C596.32 28.63 592.30 27.18 588.50 26.60 C584.70 26.02 580.10 26.53 576.30 26.90 C572.50 27.27 569.25 27.85 565.70 28.80 C562.15 29.75 558.05 30.95 555.00 32.60 C551.95 34.25 549.30 36.67 547.40 38.70 C545.50 40.73 544.35 42.77 543.60 44.80 C542.85 46.83 542.52 48.37 542.90 50.90 Z" fill="none" stroke="#2a3a38" stroke-width="3.6" stroke-opacity="0.5" filter="url(#bl)"/>
</g>
<path d="M542.90 50.90 C543.28 53.43 544.13 58.10 545.90 60.00 C547.67 61.90 550.97 61.67 553.50 62.30 C556.03 62.93 559.58 62.42 561.10 63.80 C562.62 65.18 561.33 69.08 562.60 70.60 C563.87 72.12 565.15 72.95 568.70 72.90 C572.25 72.85 578.83 71.95 583.90 70.30 C588.97 68.65 595.17 65.60 599.10 63.00 C603.03 60.40 605.85 57.48 607.50 54.70 C609.15 51.92 609.38 49.22 609.00 46.30 C608.62 43.38 606.85 39.85 605.20 37.20 C603.55 34.55 601.88 32.17 599.10 30.40 C596.32 28.63 592.30 27.18 588.50 26.60 C584.70 26.02 580.10 26.53 576.30 26.90 C572.50 27.27 569.25 27.85 565.70 28.80 C562.15 29.75 558.05 30.95 555.00 32.60 C551.95 34.25 549.30 36.67 547.40 38.70 C545.50 40.73 544.35 42.77 543.60 44.80 C542.85 46.83 542.52 48.37 542.90 50.90 Z" fill="none" stroke="#3a3a3a" stroke-width="0.7"/>
<clipPath id="cptm"><path d="M613.50 53.90 C613.25 50.35 614.57 44.12 616.60 40.20 C618.63 36.28 622.42 32.67 625.70 30.40 C628.98 28.13 632.50 27.12 636.30 26.60 C640.10 26.08 644.18 26.55 648.50 27.30 C652.82 28.05 658.15 29.45 662.20 31.10 C666.25 32.75 670.15 34.67 672.80 37.20 C675.45 39.73 677.33 43.00 678.10 46.30 C678.87 49.60 678.53 54.22 677.40 57.00 C676.27 59.78 674.08 61.48 671.30 63.00 C668.52 64.52 662.73 64.83 660.70 66.10 C658.67 67.37 660.37 69.58 659.10 70.60 C657.83 71.62 656.13 72.70 653.10 72.20 C650.07 71.70 644.97 68.87 640.90 67.60 C636.83 66.33 632.50 65.62 628.70 64.60 C624.90 63.58 620.63 63.28 618.10 61.50 C615.57 59.72 613.75 57.45 613.50 53.90 Z"/></clipPath>
<g clip-path="url(#cptm)">
<path d="M613.50 53.90 C613.25 50.35 614.57 44.12 616.60 40.20 C618.63 36.28 622.42 32.67 625.70 30.40 C628.98 28.13 632.50 27.12 636.30 26.60 C640.10 26.08 644.18 26.55 648.50 27.30 C652.82 28.05 658.15 29.45 662.20 31.10 C666.25 32.75 670.15 34.67 672.80 37.20 C675.45 39.73 677.33 43.00 678.10 46.30 C678.87 49.60 678.53 54.22 677.40 57.00 C676.27 59.78 674.08 61.48 671.30 63.00 C668.52 64.52 662.73 64.83 660.70 66.10 C658.67 67.37 660.37 69.58 659.10 70.60 C657.83 71.62 656.13 72.70 653.10 72.20 C650.07 71.70 644.97 68.87 640.90 67.60 C636.83 66.33 632.50 65.62 628.70 64.60 C624.90 63.58 620.63 63.28 618.10 61.50 C615.57 59.72 613.75 57.45 613.50 53.90 Z" fill="#f6e0cf"/>
<g filter="url(#bl)">
<ellipse cx="618.00" cy="55.00" rx="6" ry="9" fill="#3d9281" transform="rotate(0 618.00 55.00)"/>
<ellipse cx="622.50" cy="50.00" rx="4" ry="6" fill="#5fa393" transform="rotate(0 622.50 50.00)"/>
<ellipse cx="623.50" cy="41.00" rx="4" ry="5" fill="#9cc7bb" transform="rotate(0 623.50 41.00)"/>
<ellipse cx="620.50" cy="36.00" rx="4" ry="4" fill="#f5eedc" transform="rotate(0 620.50 36.00)"/>
<ellipse cx="641.50" cy="35.00" rx="12" ry="7" fill="#f8f1de" transform="rotate(0 641.50 35.00)"/>
<ellipse cx="650.50" cy="30.50" rx="7" ry="3" fill="#f7efdc" transform="rotate(0 650.50 30.50)"/>
<ellipse cx="631.50" cy="60.00" rx="6" ry="3.5" fill="#f6ead8" transform="rotate(0 631.50 60.00)"/>
<ellipse cx="669.50" cy="49.00" rx="7" ry="12" fill="#f3b094" transform="rotate(0 669.50 49.00)"/>
<ellipse cx="660.50" cy="40.00" rx="6" ry="3" fill="#f5c4ad" transform="rotate(0 660.50 40.00)"/>
<ellipse cx="660.50" cy="64.00" rx="9" ry="3" fill="#f3b59b" transform="rotate(0 660.50 64.00)"/>
<ellipse cx="640.50" cy="66.00" rx="8" ry="3" fill="#f4cdb9" transform="rotate(0 640.50 66.00)"/>
<ellipse cx="653.50" cy="71.00" rx="4" ry="2" fill="#8fb8ae" transform="rotate(0 653.50 71.00)"/>
</g>
<path d="M628.50 36.00 C629.83 36.67 633.50 39.33 636.50 40.00 C639.50 40.67 643.83 40.50 646.50 40.00 C649.17 39.50 651.50 37.50 652.50 37.00 " fill="none" stroke="#3b3530" stroke-width="1.54" stroke-opacity="0.20" stroke-linecap="round" filter="url(#bl)"/>
<path d="M628.50 36.00 C629.83 36.67 633.50 39.33 636.50 40.00 C639.50 40.67 643.83 40.50 646.50 40.00 C649.17 39.50 651.50 37.50 652.50 37.00 " fill="none" stroke="#2b2b2b" stroke-width="0.56" stroke-opacity="0.45" stroke-linecap="round" filter="url(#bl2)"/>
<path d="M635.50 53.00 C636.08 51.50 636.83 49.58 638.50 48.50 C640.17 47.42 642.67 46.67 645.50 46.50 C648.33 46.33 652.50 47.00 655.50 47.50 C658.50 48.00 661.42 48.42 663.50 49.50 C665.58 50.58 667.33 52.25 668.00 54.00 C668.67 55.75 668.42 58.25 667.50 60.00 C666.58 61.75 663.83 63.08 662.50 64.50 C661.17 65.92 660.67 67.50 659.50 68.50 C658.33 69.50 657.00 70.42 655.50 70.50 C654.00 70.58 652.33 69.83 650.50 69.00 C648.67 68.17 646.67 66.67 644.50 65.50 C642.33 64.33 639.08 63.33 637.50 62.00 C635.92 60.67 635.33 59.00 635.00 57.50 C634.67 56.00 634.92 54.50 635.50 53.00 Z" fill="url(#grayg)"/>
<path d="M635.50 53.00 C636.08 51.50 636.83 49.58 638.50 48.50 C640.17 47.42 642.67 46.67 645.50 46.50 C648.33 46.33 652.50 47.00 655.50 47.50 C658.50 48.00 661.42 48.42 663.50 49.50 C665.58 50.58 667.33 52.25 668.00 54.00 C668.67 55.75 668.42 58.25 667.50 60.00 C666.58 61.75 663.83 63.08 662.50 64.50 C661.17 65.92 660.67 67.50 659.50 68.50 C658.33 69.50 657.00 70.42 655.50 70.50 C654.00 70.58 652.33 69.83 650.50 69.00 C648.67 68.17 646.67 66.67 644.50 65.50 C642.33 64.33 639.08 63.33 637.50 62.00 C635.92 60.67 635.33 59.00 635.00 57.50 C634.67 56.00 634.92 54.50 635.50 53.00 Z" fill="none" stroke="#8a8a8a" stroke-width="0.6" stroke-opacity="0.6"/>
<path d="M613.50 53.90 C613.25 50.35 614.57 44.12 616.60 40.20 C618.63 36.28 622.42 32.67 625.70 30.40 C628.98 28.13 632.50 27.12 636.30 26.60 C640.10 26.08 644.18 26.55 648.50 27.30 C652.82 28.05 658.15 29.45 662.20 31.10 C666.25 32.75 670.15 34.67 672.80 37.20 C675.45 39.73 677.33 43.00 678.10 46.30 C678.87 49.60 678.53 54.22 677.40 57.00 C676.27 59.78 674.08 61.48 671.30 63.00 C668.52 64.52 662.73 64.83 660.70 66.10 C658.67 67.37 660.37 69.58 659.10 70.60 C657.83 71.62 656.13 72.70 653.10 72.20 C650.07 71.70 644.97 68.87 640.90 67.60 C636.83 66.33 632.50 65.62 628.70 64.60 C624.90 63.58 620.63 63.28 618.10 61.50 C615.57 59.72 613.75 57.45 613.50 53.90 Z" fill="none" stroke="#2a3a38" stroke-width="3.6" stroke-opacity="0.5" filter="url(#bl)"/>
</g>
<path d="M613.50 53.90 C613.25 50.35 614.57 44.12 616.60 40.20 C618.63 36.28 622.42 32.67 625.70 30.40 C628.98 28.13 632.50 27.12 636.30 26.60 C640.10 26.08 644.18 26.55 648.50 27.30 C652.82 28.05 658.15 29.45 662.20 31.10 C666.25 32.75 670.15 34.67 672.80 37.20 C675.45 39.73 677.33 43.00 678.10 46.30 C678.87 49.60 678.53 54.22 677.40 57.00 C676.27 59.78 674.08 61.48 671.30 63.00 C668.52 64.52 662.73 64.83 660.70 66.10 C658.67 67.37 660.37 69.58 659.10 70.60 C657.83 71.62 656.13 72.70 653.10 72.20 C650.07 71.70 644.97 68.87 640.90 67.60 C636.83 66.33 632.50 65.62 628.70 64.60 C624.90 63.58 620.63 63.28 618.10 61.50 C615.57 59.72 613.75 57.45 613.50 53.90 Z" fill="none" stroke="#3a3a3a" stroke-width="0.7"/>
<defs><linearGradient id="sg1" x1="0.3" y1="0" x2="0.6" y2="1"><stop offset="0" stop-color="#f5bba3"/><stop offset="0.55" stop-color="#f4b296"/><stop offset="1" stop-color="#cd967e"/></linearGradient></defs>
<path d="M388.50 102.90 C387.33 101.55 388.75 98.23 389.50 95.90 C390.25 93.57 391.43 90.97 393.00 88.90 C394.57 86.83 396.75 84.98 398.90 83.50 C401.05 82.02 403.40 80.83 405.90 80.00 C408.40 79.17 411.25 78.83 413.90 78.50 C416.55 78.17 419.82 77.92 421.80 78.00 C423.78 78.08 426.43 78.33 425.80 79.00 C425.17 79.67 420.63 80.58 418.00 82.00 C415.37 83.42 412.50 85.92 410.00 87.50 C407.50 89.08 404.83 90.08 403.00 91.50 C401.17 92.92 400.08 93.92 399.00 96.00 C397.92 98.08 398.25 102.85 396.50 104.00 C394.75 105.15 389.67 104.25 388.50 102.90 Z" fill="url(#sg1)" stroke="#5a2412" stroke-width="0.5" stroke-opacity="0.5"/>
<defs><linearGradient id="sg2" x1="0.3" y1="0" x2="0.6" y2="1"><stop offset="0" stop-color="#ec9872"/><stop offset="0.55" stop-color="#e98a5f"/><stop offset="1" stop-color="#c47450"/></linearGradient></defs>
<path d="M415.70 86.70 C417.00 85.85 419.57 85.25 421.80 84.90 C424.03 84.55 426.87 84.20 429.10 84.60 C431.33 85.00 433.58 86.03 435.20 87.30 C436.82 88.57 438.20 90.58 438.80 92.20 C439.40 93.82 439.10 95.58 438.80 97.00 C438.50 98.42 437.60 99.98 437.00 100.70 C436.40 101.42 435.70 101.50 435.20 101.30 C434.70 101.10 434.82 99.70 434.00 99.50 C433.18 99.30 431.97 99.93 430.30 100.10 C428.63 100.27 426.38 101.02 424.00 100.50 C421.62 99.98 417.67 98.75 416.00 97.00 C414.33 95.25 414.05 91.72 414.00 90.00 C413.95 88.28 414.40 87.55 415.70 86.70 Z" fill="url(#sg2)" stroke="#5a2412" stroke-width="0.7" stroke-opacity="0.85"/>
<defs><linearGradient id="sg3" x1="0.3" y1="0" x2="0.6" y2="1"><stop offset="0" stop-color="#ec9872"/><stop offset="0.55" stop-color="#e98a5f"/><stop offset="1" stop-color="#c47450"/></linearGradient></defs>
<path d="M395.00 98.90 C395.25 97.73 395.18 96.23 396.00 94.90 C396.82 93.57 398.25 91.98 399.90 90.90 C401.55 89.82 403.57 88.88 405.90 88.40 C408.23 87.92 411.75 87.92 413.90 88.00 C416.05 88.08 417.23 88.25 418.80 88.90 C420.37 89.55 422.30 90.73 423.30 91.90 C424.30 93.07 424.88 94.57 424.80 95.90 C424.72 97.23 424.13 98.40 422.80 99.90 C421.47 101.40 418.78 103.90 416.80 104.90 C414.82 105.90 412.72 105.73 410.90 105.90 C409.08 106.07 407.07 105.42 405.90 105.90 C404.73 106.38 404.90 108.32 403.90 108.80 C402.90 109.28 401.22 109.28 399.90 108.80 C398.58 108.32 396.90 107.05 396.00 105.90 C395.10 104.75 394.67 103.07 394.50 101.90 C394.33 100.73 394.75 100.07 395.00 98.90 Z" fill="url(#sg3)" stroke="#5a2412" stroke-width="0.7" stroke-opacity="0.85"/>
<defs><linearGradient id="sg4" x1="0.3" y1="0" x2="0.6" y2="1"><stop offset="0" stop-color="#e08a67"/><stop offset="0.55" stop-color="#dc7a52"/><stop offset="1" stop-color="#b96645"/></linearGradient></defs>
<path d="M415.70 116.50 C417.02 114.78 420.17 112.23 423.00 110.40 C425.83 108.57 429.87 107.32 432.70 105.50 C435.53 103.68 438.47 101.22 440.00 99.50 C441.53 97.78 441.28 95.92 441.90 95.20 C442.52 94.48 443.23 94.70 443.70 95.20 C444.17 95.70 444.90 96.88 444.70 98.20 C444.50 99.52 443.88 101.27 442.50 103.10 C441.12 104.93 438.83 107.17 436.40 109.20 C433.97 111.23 430.73 113.28 427.90 115.30 C425.07 117.32 421.33 119.98 419.40 121.30 C417.47 122.62 417.02 123.30 416.30 123.20 C415.58 123.10 415.20 121.82 415.10 120.70 C415.00 119.58 414.38 118.22 415.70 116.50 Z" fill="url(#sg4)" stroke="#5a2412" stroke-width="0.7" stroke-opacity="0.85"/>
<defs><linearGradient id="sg5" x1="0.3" y1="0" x2="0.6" y2="1"><stop offset="0" stop-color="#e66a3a"/><stop offset="0.55" stop-color="#e3561f"/><stop offset="1" stop-color="#bf481a"/></linearGradient></defs>
<path d="M412.70 109.20 C413.92 107.82 416.53 108.00 417.60 108.20 C418.67 108.40 419.20 108.82 419.10 110.40 C419.00 111.98 417.97 115.67 417.00 117.70 C416.03 119.73 414.32 122.00 413.30 122.60 C412.28 123.20 411.40 122.32 410.90 121.30 C410.40 120.28 410.00 118.52 410.30 116.50 C410.60 114.48 411.48 110.58 412.70 109.20 Z" fill="url(#sg5)" stroke="#5a2412" stroke-width="0.7" stroke-opacity="0.85"/>
<defs><linearGradient id="sg6" x1="0.3" y1="0" x2="0.6" y2="1"><stop offset="0" stop-color="#f5bba3"/><stop offset="0.55" stop-color="#f4b296"/><stop offset="1" stop-color="#cd967e"/></linearGradient></defs>
<path d="M474.10 78.70 C474.67 78.28 477.95 77.78 480.40 77.70 C482.85 77.62 486.17 77.58 488.80 78.20 C491.43 78.82 493.92 80.00 496.20 81.40 C498.48 82.80 500.58 84.68 502.50 86.60 C504.42 88.52 506.40 90.80 507.70 92.90 C509.00 95.00 509.95 97.53 510.30 99.20 C510.65 100.87 510.40 102.20 509.80 102.90 C509.20 103.60 507.83 103.72 506.70 103.40 C505.57 103.08 504.28 101.90 503.00 101.00 C501.72 100.10 500.83 99.67 499.00 98.00 C497.17 96.33 494.17 93.00 492.00 91.00 C489.83 89.00 487.83 87.42 486.00 86.00 C484.17 84.58 482.50 83.47 481.00 82.50 C479.50 81.53 478.15 80.83 477.00 80.20 C475.85 79.57 473.53 79.12 474.10 78.70 Z" fill="url(#sg6)" stroke="#5a2412" stroke-width="0.5" stroke-opacity="0.5"/>
<defs><linearGradient id="sg7" x1="0.3" y1="0" x2="0.6" y2="1"><stop offset="0" stop-color="#ec9872"/><stop offset="0.55" stop-color="#e98a5f"/><stop offset="1" stop-color="#c47450"/></linearGradient></defs>
<path d="M484.00 86.50 C484.83 84.83 487.50 87.08 489.00 88.00 C490.50 88.92 491.83 90.50 493.00 92.00 C494.17 93.50 495.58 95.42 496.00 97.00 C496.42 98.58 496.17 100.50 495.50 101.50 C494.83 102.50 493.42 102.92 492.00 103.00 C490.58 103.08 488.33 102.83 487.00 102.00 C485.67 101.17 484.50 100.58 484.00 98.00 C483.50 95.42 483.17 88.17 484.00 86.50 Z" fill="url(#sg7)" stroke="#5a2412" stroke-width="0.7" stroke-opacity="0.85"/>
<defs><linearGradient id="sg8" x1="0.3" y1="0" x2="0.6" y2="1"><stop offset="0" stop-color="#ec9872"/><stop offset="0.55" stop-color="#e98a5f"/><stop offset="1" stop-color="#c47450"/></linearGradient></defs>
<path d="M460.00 97.20 C459.88 95.98 459.95 93.55 460.60 91.90 C461.25 90.25 462.25 88.62 463.90 87.30 C465.55 85.98 468.07 84.67 470.50 84.00 C472.93 83.33 476.28 83.08 478.50 83.30 C480.72 83.52 482.37 84.32 483.80 85.30 C485.23 86.28 486.55 87.67 487.10 89.20 C487.65 90.73 487.43 92.83 487.10 94.50 C486.77 96.17 486.10 98.20 485.10 99.20 C484.10 100.20 482.65 100.40 481.10 100.50 C479.55 100.60 477.57 99.80 475.80 99.80 C474.03 99.80 472.27 100.50 470.50 100.50 C468.73 100.50 466.73 100.02 465.20 99.80 C463.67 99.58 462.17 99.63 461.30 99.20 C460.43 98.77 460.12 98.42 460.00 97.20 Z" fill="url(#sg8)" stroke="#5a2412" stroke-width="0.7" stroke-opacity="0.85"/>
<defs><linearGradient id="sg9" x1="0.3" y1="0" x2="0.6" y2="1"><stop offset="0" stop-color="#e08a67"/><stop offset="0.55" stop-color="#dc7a52"/><stop offset="1" stop-color="#b96645"/></linearGradient></defs>
<path d="M454.60 97.20 C454.78 96.20 455.43 95.42 456.00 95.20 C456.57 94.98 457.45 95.02 458.00 95.90 C458.55 96.78 458.10 98.85 459.30 100.50 C460.50 102.15 462.88 104.25 465.20 105.80 C467.52 107.35 470.77 108.92 473.20 109.80 C475.63 110.68 478.37 110.33 479.80 111.10 C481.23 111.87 481.47 112.97 481.80 114.40 C482.13 115.83 482.35 118.70 481.80 119.70 C481.25 120.70 480.38 121.07 478.50 120.40 C476.62 119.73 473.15 117.37 470.50 115.70 C467.85 114.03 464.80 112.17 462.60 110.40 C460.40 108.63 458.58 106.63 457.30 105.10 C456.02 103.57 455.35 102.52 454.90 101.20 C454.45 99.88 454.42 98.20 454.60 97.20 Z" fill="url(#sg9)" stroke="#5a2412" stroke-width="0.7" stroke-opacity="0.85"/>
<defs><linearGradient id="sg10" x1="0.3" y1="0" x2="0.6" y2="1"><stop offset="0" stop-color="#e66a3a"/><stop offset="0.55" stop-color="#e3561f"/><stop offset="1" stop-color="#bf481a"/></linearGradient></defs>
<path d="M480.20 108.50 C480.97 107.62 483.83 107.03 485.10 107.80 C486.37 108.57 487.47 111.12 487.80 113.10 C488.13 115.08 487.65 118.27 487.10 119.70 C486.55 121.13 485.38 121.92 484.50 121.70 C483.62 121.48 482.47 119.83 481.80 118.40 C481.13 116.97 480.77 114.75 480.50 113.10 C480.23 111.45 479.43 109.38 480.20 108.50 Z" fill="url(#sg10)" stroke="#5a2412" stroke-width="0.7" stroke-opacity="0.85"/>
<defs><linearGradient id="sg11" x1="0.3" y1="0" x2="0.6" y2="1"><stop offset="0" stop-color="#e66a3a"/><stop offset="0.55" stop-color="#e3561f"/><stop offset="1" stop-color="#bf481a"/></linearGradient></defs>
<path d="M494.00 102.40 C494.72 101.52 496.72 101.40 498.30 101.30 C499.88 101.20 502.55 101.27 503.50 101.80 C504.45 102.33 504.52 103.53 504.00 104.50 C503.48 105.47 501.70 106.90 500.40 107.60 C499.10 108.30 497.27 108.87 496.20 108.70 C495.13 108.53 494.37 107.65 494.00 106.60 C493.63 105.55 493.28 103.28 494.00 102.40 Z" fill="url(#sg11)" stroke="#5a2412" stroke-width="0.7" stroke-opacity="0.85"/>
<defs><linearGradient id="sg12" x1="0.3" y1="0" x2="0.6" y2="1"><stop offset="0" stop-color="#f47c45"/><stop offset="0.55" stop-color="#f26a2c"/><stop offset="1" stop-color="#cb5925"/></linearGradient></defs>
<path d="M550.00 102.90 C548.83 101.55 550.25 98.23 551.00 95.90 C551.75 93.57 552.93 90.97 554.50 88.90 C556.07 86.83 558.25 84.98 560.40 83.50 C562.55 82.02 564.90 80.83 567.40 80.00 C569.90 79.17 572.75 78.83 575.40 78.50 C578.05 78.17 581.32 77.92 583.30 78.00 C585.28 78.08 587.93 78.33 587.30 79.00 C586.67 79.67 582.13 80.58 579.50 82.00 C576.87 83.42 574.00 85.92 571.50 87.50 C569.00 89.08 566.33 90.08 564.50 91.50 C562.67 92.92 561.58 93.92 560.50 96.00 C559.42 98.08 559.75 102.85 558.00 104.00 C556.25 105.15 551.17 104.25 550.00 102.90 Z" fill="url(#sg12)" stroke="#5a2412" stroke-width="0.5" stroke-opacity="0.5"/>
<defs><linearGradient id="sg13" x1="0.3" y1="0" x2="0.6" y2="1"><stop offset="0" stop-color="#f27c45"/><stop offset="0.55" stop-color="#f06a2c"/><stop offset="1" stop-color="#ca5925"/></linearGradient></defs>
<path d="M577.20 86.70 C578.50 85.85 581.07 85.25 583.30 84.90 C585.53 84.55 588.37 84.20 590.60 84.60 C592.83 85.00 595.08 86.03 596.70 87.30 C598.32 88.57 599.70 90.58 600.30 92.20 C600.90 93.82 600.60 95.58 600.30 97.00 C600.00 98.42 599.10 99.98 598.50 100.70 C597.90 101.42 597.20 101.50 596.70 101.30 C596.20 101.10 596.32 99.70 595.50 99.50 C594.68 99.30 593.47 99.93 591.80 100.10 C590.13 100.27 587.88 101.02 585.50 100.50 C583.12 99.98 579.17 98.75 577.50 97.00 C575.83 95.25 575.55 91.72 575.50 90.00 C575.45 88.28 575.90 87.55 577.20 86.70 Z" fill="url(#sg13)" stroke="#5a2412" stroke-width="0.7" stroke-opacity="0.85"/>
<defs><linearGradient id="sg14" x1="0.3" y1="0" x2="0.6" y2="1"><stop offset="0" stop-color="#f17742"/><stop offset="0.55" stop-color="#ef6428"/><stop offset="1" stop-color="#c95422"/></linearGradient></defs>
<path d="M556.50 98.90 C556.75 97.73 556.68 96.23 557.50 94.90 C558.32 93.57 559.75 91.98 561.40 90.90 C563.05 89.82 565.07 88.88 567.40 88.40 C569.73 87.92 573.25 87.92 575.40 88.00 C577.55 88.08 578.73 88.25 580.30 88.90 C581.87 89.55 583.80 90.73 584.80 91.90 C585.80 93.07 586.38 94.57 586.30 95.90 C586.22 97.23 585.63 98.40 584.30 99.90 C582.97 101.40 580.28 103.90 578.30 104.90 C576.32 105.90 574.22 105.73 572.40 105.90 C570.58 106.07 568.57 105.42 567.40 105.90 C566.23 106.38 566.40 108.32 565.40 108.80 C564.40 109.28 562.72 109.28 561.40 108.80 C560.08 108.32 558.40 107.05 557.50 105.90 C556.60 104.75 556.17 103.07 556.00 101.90 C555.83 100.73 556.25 100.07 556.50 98.90 Z" fill="url(#sg14)" stroke="#5a2412" stroke-width="0.7" stroke-opacity="0.85"/>
<defs><linearGradient id="sg15" x1="0.3" y1="0" x2="0.6" y2="1"><stop offset="0" stop-color="#f1a284"/><stop offset="0.55" stop-color="#ef9573"/><stop offset="1" stop-color="#c97d61"/></linearGradient></defs>
<path d="M577.20 116.50 C578.52 114.78 581.67 112.23 584.50 110.40 C587.33 108.57 591.37 107.32 594.20 105.50 C597.03 103.68 599.97 101.22 601.50 99.50 C603.03 97.78 602.78 95.92 603.40 95.20 C604.02 94.48 604.73 94.70 605.20 95.20 C605.67 95.70 606.40 96.88 606.20 98.20 C606.00 99.52 605.38 101.27 604.00 103.10 C602.62 104.93 600.33 107.17 597.90 109.20 C595.47 111.23 592.23 113.28 589.40 115.30 C586.57 117.32 582.83 119.98 580.90 121.30 C578.97 122.62 578.52 123.30 577.80 123.20 C577.08 123.10 576.70 121.82 576.60 120.70 C576.50 119.58 575.88 118.22 577.20 116.50 Z" fill="url(#sg15)" stroke="#5a2412" stroke-width="0.7" stroke-opacity="0.85"/>
<defs><linearGradient id="sg16" x1="0.3" y1="0" x2="0.6" y2="1"><stop offset="0" stop-color="#f06e39"/><stop offset="0.55" stop-color="#ee5a1e"/><stop offset="1" stop-color="#c84c19"/></linearGradient></defs>
<path d="M574.20 109.20 C575.42 107.82 578.03 108.00 579.10 108.20 C580.17 108.40 580.70 108.82 580.60 110.40 C580.50 111.98 579.47 115.67 578.50 117.70 C577.53 119.73 575.82 122.00 574.80 122.60 C573.78 123.20 572.90 122.32 572.40 121.30 C571.90 120.28 571.50 118.52 571.80 116.50 C572.10 114.48 572.98 110.58 574.20 109.20 Z" fill="url(#sg16)" stroke="#5a2412" stroke-width="0.7" stroke-opacity="0.85"/>
<defs><linearGradient id="sg17" x1="0.3" y1="0" x2="0.6" y2="1"><stop offset="0" stop-color="#f47c45"/><stop offset="0.55" stop-color="#f26a2c"/><stop offset="1" stop-color="#cb5925"/></linearGradient></defs>
<path d="M633.60 78.70 C634.17 78.28 637.45 77.78 639.90 77.70 C642.35 77.62 645.67 77.58 648.30 78.20 C650.93 78.82 653.42 80.00 655.70 81.40 C657.98 82.80 660.08 84.68 662.00 86.60 C663.92 88.52 665.90 90.80 667.20 92.90 C668.50 95.00 669.45 97.53 669.80 99.20 C670.15 100.87 669.90 102.20 669.30 102.90 C668.70 103.60 667.33 103.72 666.20 103.40 C665.07 103.08 663.78 101.90 662.50 101.00 C661.22 100.10 660.33 99.67 658.50 98.00 C656.67 96.33 653.67 93.00 651.50 91.00 C649.33 89.00 647.33 87.42 645.50 86.00 C643.67 84.58 642.00 83.47 640.50 82.50 C639.00 81.53 637.65 80.83 636.50 80.20 C635.35 79.57 633.03 79.12 633.60 78.70 Z" fill="url(#sg17)" stroke="#5a2412" stroke-width="0.5" stroke-opacity="0.5"/>
<defs><linearGradient id="sg18" x1="0.3" y1="0" x2="0.6" y2="1"><stop offset="0" stop-color="#f27c45"/><stop offset="0.55" stop-color="#f06a2c"/><stop offset="1" stop-color="#ca5925"/></linearGradient></defs>
<path d="M643.50 86.50 C644.33 84.83 647.00 87.08 648.50 88.00 C650.00 88.92 651.33 90.50 652.50 92.00 C653.67 93.50 655.08 95.42 655.50 97.00 C655.92 98.58 655.67 100.50 655.00 101.50 C654.33 102.50 652.92 102.92 651.50 103.00 C650.08 103.08 647.83 102.83 646.50 102.00 C645.17 101.17 644.00 100.58 643.50 98.00 C643.00 95.42 642.67 88.17 643.50 86.50 Z" fill="url(#sg18)" stroke="#5a2412" stroke-width="0.7" stroke-opacity="0.85"/>
<defs><linearGradient id="sg19" x1="0.3" y1="0" x2="0.6" y2="1"><stop offset="0" stop-color="#f17742"/><stop offset="0.55" stop-color="#ef6428"/><stop offset="1" stop-color="#c95422"/></linearGradient></defs>
<path d="M619.50 97.20 C619.38 95.98 619.45 93.55 620.10 91.90 C620.75 90.25 621.75 88.62 623.40 87.30 C625.05 85.98 627.57 84.67 630.00 84.00 C632.43 83.33 635.78 83.08 638.00 83.30 C640.22 83.52 641.87 84.32 643.30 85.30 C644.73 86.28 646.05 87.67 646.60 89.20 C647.15 90.73 646.93 92.83 646.60 94.50 C646.27 96.17 645.60 98.20 644.60 99.20 C643.60 100.20 642.15 100.40 640.60 100.50 C639.05 100.60 637.07 99.80 635.30 99.80 C633.53 99.80 631.77 100.50 630.00 100.50 C628.23 100.50 626.23 100.02 624.70 99.80 C623.17 99.58 621.67 99.63 620.80 99.20 C619.93 98.77 619.62 98.42 619.50 97.20 Z" fill="url(#sg19)" stroke="#5a2412" stroke-width="0.7" stroke-opacity="0.85"/>
<defs><linearGradient id="sg20" x1="0.3" y1="0" x2="0.6" y2="1"><stop offset="0" stop-color="#f1a284"/><stop offset="0.55" stop-color="#ef9573"/><stop offset="1" stop-color="#c97d61"/></linearGradient></defs>
<path d="M614.10 97.20 C614.28 96.20 614.93 95.42 615.50 95.20 C616.07 94.98 616.95 95.02 617.50 95.90 C618.05 96.78 617.60 98.85 618.80 100.50 C620.00 102.15 622.38 104.25 624.70 105.80 C627.02 107.35 630.27 108.92 632.70 109.80 C635.13 110.68 637.87 110.33 639.30 111.10 C640.73 111.87 640.97 112.97 641.30 114.40 C641.63 115.83 641.85 118.70 641.30 119.70 C640.75 120.70 639.88 121.07 638.00 120.40 C636.12 119.73 632.65 117.37 630.00 115.70 C627.35 114.03 624.30 112.17 622.10 110.40 C619.90 108.63 618.08 106.63 616.80 105.10 C615.52 103.57 614.85 102.52 614.40 101.20 C613.95 99.88 613.92 98.20 614.10 97.20 Z" fill="url(#sg20)" stroke="#5a2412" stroke-width="0.7" stroke-opacity="0.85"/>
<defs><linearGradient id="sg21" x1="0.3" y1="0" x2="0.6" y2="1"><stop offset="0" stop-color="#f06e39"/><stop offset="0.55" stop-color="#ee5a1e"/><stop offset="1" stop-color="#c84c19"/></linearGradient></defs>
<path d="M639.70 108.50 C640.47 107.62 643.33 107.03 644.60 107.80 C645.87 108.57 646.97 111.12 647.30 113.10 C647.63 115.08 647.15 118.27 646.60 119.70 C646.05 121.13 644.88 121.92 644.00 121.70 C643.12 121.48 641.97 119.83 641.30 118.40 C640.63 116.97 640.27 114.75 640.00 113.10 C639.73 111.45 638.93 109.38 639.70 108.50 Z" fill="url(#sg21)" stroke="#5a2412" stroke-width="0.7" stroke-opacity="0.85"/>
<defs><linearGradient id="sg22" x1="0.3" y1="0" x2="0.6" y2="1"><stop offset="0" stop-color="#f06e39"/><stop offset="0.55" stop-color="#ee5a1e"/><stop offset="1" stop-color="#c84c19"/></linearGradient></defs>
<path d="M653.50 102.40 C654.22 101.52 656.22 101.40 657.80 101.30 C659.38 101.20 662.05 101.27 663.00 101.80 C663.95 102.33 664.02 103.53 663.50 104.50 C662.98 105.47 661.20 106.90 659.90 107.60 C658.60 108.30 656.77 108.87 655.70 108.70 C654.63 108.53 653.87 107.65 653.50 106.60 C653.13 105.55 652.78 103.28 653.50 102.40 Z" fill="url(#sg22)" stroke="#5a2412" stroke-width="0.7" stroke-opacity="0.85"/>
<text x="450" y="16.8" font-size="8.9" text-anchor="middle" fill="#231f20" font-weight="normal" >Receptor scores</text>
<text x="610.7" y="16.8" font-size="8.9" text-anchor="middle" fill="#231f20" font-weight="normal" >Term scores</text>
<defs><linearGradient id="cb" x1="0" x2="1" y1="0" y2="0"><stop offset="0" stop-color="#1b6b55"/><stop offset="0.22" stop-color="#4a9784"/><stop offset="0.42" stop-color="#cfe3dc"/><stop offset="0.5" stop-color="#fbfaf7"/><stop offset="0.6" stop-color="#f9dccf"/><stop offset="0.8" stop-color="#f39b76"/><stop offset="1" stop-color="#f0591e"/></linearGradient></defs>
<rect x="499" y="135.2" width="60" height="5.6" fill="url(#cb)" stroke="#444" stroke-width="0.5"/>
<text x="496.5" y="140.1" font-size="7.3" text-anchor="end" fill="#231f20" font-weight="normal" >Min</text>
<text x="562.5" y="140.1" font-size="7.3" text-anchor="start" fill="#231f20" font-weight="normal" >Max</text>
<text x="528.7" y="149" font-size="8.7" text-anchor="middle" fill="#231f20" font-weight="normal" >Scores</text>
<defs><filter id="wb" x="-10%" y="-100%" width="120%" height="300%"><feGaussianBlur stdDeviation="0.35"/></filter></defs>
<text x="-0.8" y="185.6" font-size="11.8" text-anchor="start" fill="#000" font-weight="bold" textLength="8.4" lengthAdjust="spacingAndGlyphs" >b</text>
<text x="18.4" y="185.3" font-size="9" text-anchor="start" fill="#231f20" font-weight="normal" textLength="318.6" lengthAdjust="spacingAndGlyphs" >Loadings of each set on major axis of multivariate mapping (top and bottom 10)</text>
<rect x="50.9" y="200.80" width="100.60" height="8.4" fill="#4a9888"/>
<rect x="151.5" y="200.80" width="93.90" height="8.4" fill="#f0925c"/>
<rect x="70" y="213.10" width="81.50" height="8.4" fill="#4a9888"/>
<rect x="151.5" y="213.10" width="91.50" height="8.4" fill="#f0925c"/>
<rect x="72" y="225.40" width="79.50" height="8.4" fill="#4a9888"/>
<rect x="151.5" y="225.40" width="89.40" height="8.4" fill="#f0925c"/>
<rect x="76" y="237.70" width="75.50" height="8.4" fill="#4a9888"/>
<rect x="151.5" y="237.70" width="82.30" height="8.4" fill="#f0925c"/>
<rect x="77.2" y="250.00" width="74.30" height="8.4" fill="#4a9888"/>
<rect x="151.5" y="250.00" width="77.40" height="8.4" fill="#f0925c"/>
<rect x="82.2" y="262.30" width="69.30" height="8.4" fill="#4a9888"/>
<rect x="151.5" y="262.30" width="76.30" height="8.4" fill="#f0925c"/>
<rect x="85.2" y="274.60" width="66.30" height="8.4" fill="#4a9888"/>
<rect x="151.5" y="274.60" width="72.30" height="8.4" fill="#f0925c"/>
<rect x="86" y="286.90" width="65.50" height="8.4" fill="#4a9888"/>
<rect x="151.5" y="286.90" width="69.40" height="8.4" fill="#f0925c"/>
<rect x="87.1" y="299.20" width="64.40" height="8.4" fill="#4a9888"/>
<rect x="151.5" y="299.20" width="47.80" height="8.4" fill="#f0925c"/>
<rect x="87.6" y="311.50" width="63.90" height="8.4" fill="#4a9888"/>
<rect x="151.5" y="311.50" width="44.00" height="8.4" fill="#f0925c"/>
<g filter="url(#wb)"><path d="M34.7 205.00 C41.5 203.50 56.3 203.50 65.6 205.00 C56.3 206.50 41.5 206.50 34.7 205.00 Z" fill="#333" fill-opacity="0.50"/><path d="M38.4 205.00 C43.0 203.25 53.1 203.25 59.4 205.00 C53.1 206.75 43.0 206.75 38.4 205.00 Z" fill="#1e1e1e" fill-opacity="0.70"/></g>
<g filter="url(#wb)"><path d="M228.6 205.00 C236.0 203.50 252.1 203.50 262.2 205.00 C252.1 206.50 236.0 206.50 228.6 205.00 Z" fill="#333" fill-opacity="0.50"/><path d="M232.6 205.00 C237.7 203.25 248.6 203.25 255.5 205.00 C248.6 206.75 237.7 206.75 232.6 205.00 Z" fill="#1e1e1e" fill-opacity="0.70"/></g>
<text x="30" y="208.1" font-size="8.9" text-anchor="end" fill="#231f20" font-weight="normal" textLength="22.6" lengthAdjust="spacingAndGlyphs" >VIPR2</text>
<text x="266.9" y="208.1" font-size="8.9" text-anchor="start" fill="#231f20" font-weight="normal" textLength="21.72" lengthAdjust="spacingAndGlyphs" >OXTR</text>
<g filter="url(#wb)"><path d="M51.0 217.30 C59.1 215.80 76.9 215.80 88.0 217.30 C76.9 218.80 59.1 218.80 51.0 217.30 Z" fill="#333" fill-opacity="0.47"/><path d="M55.4 217.30 C61.0 215.55 73.1 215.55 80.6 217.30 C73.1 219.05 61.0 219.05 55.4 217.30 Z" fill="#1e1e1e" fill-opacity="0.66"/></g>
<g filter="url(#wb)"><path d="M228.0 217.30 C234.8 215.80 249.7 215.80 259.0 217.30 C249.7 218.80 234.8 218.80 228.0 217.30 Z" fill="#333" fill-opacity="0.50"/><path d="M231.7 217.30 C236.4 215.55 246.5 215.55 252.8 217.30 C246.5 219.05 236.4 219.05 231.7 217.30 Z" fill="#1e1e1e" fill-opacity="0.70"/></g>
<text x="30" y="220.4" font-size="8.9" text-anchor="end" fill="#231f20" font-weight="normal" textLength="25.2" lengthAdjust="spacingAndGlyphs" >RXFP1</text>
<text x="266.9" y="220.4" font-size="8.9" text-anchor="start" fill="#231f20" font-weight="normal" textLength="27.37" lengthAdjust="spacingAndGlyphs" >EDNRB</text>
<g filter="url(#wb)"><path d="M51.6 229.60 C60.2 228.10 79.0 228.10 90.7 229.60 C79.0 231.10 60.2 231.10 51.6 229.60 Z" fill="#333" fill-opacity="0.45"/><path d="M56.3 229.60 C62.1 227.85 74.9 227.85 82.9 229.60 C74.9 231.35 62.1 231.35 56.3 229.60 Z" fill="#1e1e1e" fill-opacity="0.63"/></g>
<g filter="url(#wb)"><path d="M223.3 229.60 C231.2 228.10 248.3 228.10 259.0 229.60 C248.3 231.10 231.2 231.10 223.3 229.60 Z" fill="#333" fill-opacity="0.47"/><path d="M227.6 229.60 C232.9 227.85 244.6 227.85 251.9 229.60 C244.6 231.35 232.9 231.35 227.6 229.60 Z" fill="#1e1e1e" fill-opacity="0.66"/></g>
<text x="30" y="232.7" font-size="8.9" text-anchor="end" fill="#231f20" font-weight="normal" textLength="27.8" lengthAdjust="spacingAndGlyphs" >MCHR2</text>
<text x="266.9" y="232.7" font-size="8.9" text-anchor="start" fill="#231f20" font-weight="normal" textLength="25.63" lengthAdjust="spacingAndGlyphs" >NTSR2</text>
<g filter="url(#wb)"><path d="M58.3 241.90 C65.9 240.40 82.5 240.40 92.8 241.90 C82.5 243.40 65.9 243.40 58.3 241.90 Z" fill="#333" fill-opacity="0.40"/><path d="M62.4 241.90 C67.6 240.15 78.9 240.15 85.9 241.90 C78.9 243.65 67.6 243.65 62.4 241.90 Z" fill="#1e1e1e" fill-opacity="0.56"/></g>
<g filter="url(#wb)"><path d="M216.5 241.90 C224.3 240.40 241.2 240.40 251.8 241.90 C241.2 243.40 224.3 243.40 216.5 241.90 Z" fill="#333" fill-opacity="0.42"/><path d="M220.7 241.90 C226.0 240.15 237.5 240.15 244.7 241.90 C237.5 243.65 226.0 243.65 220.7 241.90 Z" fill="#1e1e1e" fill-opacity="0.59"/></g>
<text x="30" y="245.0" font-size="8.9" text-anchor="end" fill="#231f20" font-weight="normal" textLength="22.6" lengthAdjust="spacingAndGlyphs" >VIPR1</text>
<text x="266.9" y="245.0" font-size="8.9" text-anchor="start" fill="#231f20" font-weight="normal" textLength="45.92" lengthAdjust="spacingAndGlyphs" >ADCYAP1R1</text>
<g filter="url(#wb)"><path d="M59.7 254.20 C67.3 252.70 83.9 252.70 94.2 254.20 C83.9 255.70 67.3 255.70 59.7 254.20 Z" fill="#333" fill-opacity="0.40"/><path d="M63.8 254.20 C69.0 252.45 80.3 252.45 87.3 254.20 C80.3 255.95 69.0 255.95 63.8 254.20 Z" fill="#1e1e1e" fill-opacity="0.56"/></g>
<g filter="url(#wb)"><path d="M206.8 254.20 C216.7 252.70 238.3 252.70 251.8 254.20 C238.3 255.70 216.7 255.70 206.8 254.20 Z" fill="#333" fill-opacity="0.40"/><path d="M212.2 254.20 C218.9 252.45 233.6 252.45 242.8 254.20 C233.6 255.95 218.9 255.95 212.2 254.20 Z" fill="#1e1e1e" fill-opacity="0.56"/></g>
<text x="30" y="257.3" font-size="8.9" text-anchor="end" fill="#231f20" font-weight="normal" textLength="27.37" lengthAdjust="spacingAndGlyphs" >CCKBR</text>
<text x="266.9" y="257.3" font-size="8.9" text-anchor="start" fill="#231f20" font-weight="normal" textLength="26.94" lengthAdjust="spacingAndGlyphs" >RAMP1</text>
<g filter="url(#wb)"><path d="M61.0 266.50 C70.3 265.00 90.5 265.00 103.2 266.50 C90.5 268.00 70.3 268.00 61.0 266.50 Z" fill="#333" fill-opacity="0.35"/><path d="M66.1 266.50 C72.4 264.75 86.2 264.75 94.8 266.50 C86.2 268.25 72.4 268.25 66.1 266.50 Z" fill="#1e1e1e" fill-opacity="0.49"/></g>
<g filter="url(#wb)"><path d="M207.4 266.50 C217.5 265.00 239.5 265.00 253.2 266.50 C239.5 268.00 217.5 268.00 207.4 266.50 Z" fill="#333" fill-opacity="0.38"/><path d="M212.9 266.50 C219.7 264.75 234.7 264.75 244.0 266.50 C234.7 268.25 219.7 268.25 212.9 266.50 Z" fill="#1e1e1e" fill-opacity="0.52"/></g>
<text x="30" y="269.6" font-size="8.9" text-anchor="end" fill="#231f20" font-weight="normal" textLength="27.8" lengthAdjust="spacingAndGlyphs" >MCHR1</text>
<text x="266.9" y="269.6" font-size="8.9" text-anchor="start" fill="#231f20" font-weight="normal" textLength="20.42" lengthAdjust="spacingAndGlyphs" >LEPR</text>
<g filter="url(#wb)"><path d="M63.0 278.80 C72.3 277.30 92.5 277.30 105.2 278.80 C92.5 280.30 72.3 280.30 63.0 278.80 Z" fill="#333" fill-opacity="0.35"/><path d="M68.1 278.80 C74.4 277.05 88.2 277.05 96.8 278.80 C88.2 280.55 74.4 280.55 68.1 278.80 Z" fill="#1e1e1e" fill-opacity="0.49"/></g>
<g filter="url(#wb)"><path d="M208.0 278.80 C216.1 277.30 233.8 277.30 244.9 278.80 C233.8 280.30 216.1 280.30 208.0 278.80 Z" fill="#333" fill-opacity="0.38"/><path d="M212.4 278.80 C217.9 277.05 230.0 277.05 237.5 278.80 C230.0 280.55 217.9 280.55 212.4 278.80 Z" fill="#1e1e1e" fill-opacity="0.52"/></g>
<text x="30" y="281.90000000000003" font-size="8.9" text-anchor="end" fill="#231f20" font-weight="normal" textLength="25.93" lengthAdjust="spacingAndGlyphs" >SORT1</text>
<text x="266.9" y="281.90000000000003" font-size="8.9" text-anchor="start" fill="#231f20" font-weight="normal" textLength="27.8" lengthAdjust="spacingAndGlyphs" >OPRM1</text>
<g filter="url(#wb)"><path d="M67.6 291.10 C75.4 289.60 92.4 289.60 103.1 291.10 C92.4 292.60 75.4 292.60 67.6 291.10 Z" fill="#333" fill-opacity="0.35"/><path d="M71.9 291.10 C77.2 289.35 88.8 289.35 96.0 291.10 C88.8 292.85 77.2 292.85 71.9 291.10 Z" fill="#1e1e1e" fill-opacity="0.49"/></g>
<g filter="url(#wb)"><path d="M202.4 291.10 C210.8 289.60 229.1 289.60 240.6 291.10 C229.1 292.60 210.8 292.60 202.4 291.10 Z" fill="#333" fill-opacity="0.38"/><path d="M207.0 291.10 C212.7 289.35 225.2 289.35 233.0 291.10 C225.2 292.85 212.7 292.85 207.0 291.10 Z" fill="#1e1e1e" fill-opacity="0.52"/></g>
<text x="30" y="294.20000000000005" font-size="8.9" text-anchor="end" fill="#231f20" font-weight="normal" textLength="22.59" lengthAdjust="spacingAndGlyphs" >GRPR</text>
<text x="266.9" y="294.20000000000005" font-size="8.9" text-anchor="start" fill="#231f20" font-weight="normal" textLength="26.5" lengthAdjust="spacingAndGlyphs" >OPRK1</text>
<g filter="url(#wb)"><path d="M72.8 303.40 C78.7 301.90 91.7 301.90 99.8 303.40 C91.7 304.90 78.7 304.90 72.8 303.40 Z" fill="#333" fill-opacity="0.35"/><path d="M76.0 303.40 C80.1 301.65 88.9 301.65 94.4 303.40 C88.9 305.15 80.1 305.15 76.0 303.40 Z" fill="#1e1e1e" fill-opacity="0.49"/></g>
<g filter="url(#wb)"><path d="M182.3 303.40 C189.9 301.90 206.6 301.90 217.0 303.40 C206.6 304.90 189.9 304.90 182.3 303.40 Z" fill="#333" fill-opacity="0.35"/><path d="M186.5 303.40 C191.7 301.65 203.0 301.65 210.1 303.40 C203.0 305.15 191.7 305.15 186.5 303.40 Z" fill="#1e1e1e" fill-opacity="0.49"/></g>
<text x="30" y="306.50000000000006" font-size="8.9" text-anchor="end" fill="#231f20" font-weight="normal" textLength="20.85" lengthAdjust="spacingAndGlyphs" >NPR3</text>
<text x="266.9" y="306.50000000000006" font-size="8.9" text-anchor="start" fill="#231f20" font-weight="normal" textLength="19.12" lengthAdjust="spacingAndGlyphs" >GIPR</text>
<g filter="url(#wb)"><path d="M65.6 315.70 C74.7 314.20 94.6 314.20 107.0 315.70 C94.6 317.20 74.7 317.20 65.6 315.70 Z" fill="#333" fill-opacity="0.30"/><path d="M70.6 315.70 C76.8 313.95 90.3 313.95 98.7 315.70 C90.3 317.45 76.8 317.45 70.6 315.70 Z" fill="#1e1e1e" fill-opacity="0.42"/></g>
<g filter="url(#wb)"><path d="M174.0 315.70 C183.3 314.20 203.6 314.20 216.3 315.70 C203.6 317.20 183.3 317.20 174.0 315.70 Z" fill="#333" fill-opacity="0.30"/><path d="M179.1 315.70 C185.4 313.95 199.2 313.95 207.8 315.70 C199.2 317.45 185.4 317.45 179.1 315.70 Z" fill="#1e1e1e" fill-opacity="0.42"/></g>
<text x="30" y="318.8" font-size="8.9" text-anchor="end" fill="#231f20" font-weight="normal" textLength="25.64" lengthAdjust="spacingAndGlyphs" >OPRL1</text>
<text x="266.9" y="318.8" font-size="8.9" text-anchor="start" fill="#231f20" font-weight="normal" textLength="26.07" lengthAdjust="spacingAndGlyphs" >APLNR</text>
<line x1="151.5" y1="200.8" x2="151.5" y2="319.9" stroke="#444" stroke-width="0.55"/>
<line x1="33.9" y1="332.3" x2="259" y2="332.3" stroke="#666" stroke-width="0.9"/>
<line x1="41.34" y1="332.3" x2="41.34" y2="334.6" stroke="#666" stroke-width="0.9"/>
<text x="41.34" y="344.6" font-size="7.3" text-anchor="middle" fill="#231f20" font-weight="normal" >−0.6</text>
<line x1="78.06" y1="332.3" x2="78.06" y2="334.6" stroke="#666" stroke-width="0.9"/>
<text x="78.06" y="344.6" font-size="7.3" text-anchor="middle" fill="#231f20" font-weight="normal" >−0.4</text>
<line x1="114.78" y1="332.3" x2="114.78" y2="334.6" stroke="#666" stroke-width="0.9"/>
<text x="114.78" y="344.6" font-size="7.3" text-anchor="middle" fill="#231f20" font-weight="normal" >−0.2</text>
<line x1="151.50" y1="332.3" x2="151.50" y2="334.6" stroke="#666" stroke-width="0.9"/>
<text x="151.5" y="344.6" font-size="7.3" text-anchor="middle" fill="#231f20" font-weight="normal" >0</text>
<line x1="188.22" y1="332.3" x2="188.22" y2="334.6" stroke="#666" stroke-width="0.9"/>
<text x="188.22" y="344.6" font-size="7.3" text-anchor="middle" fill="#231f20" font-weight="normal" >0.2</text>
<line x1="224.94" y1="332.3" x2="224.94" y2="334.6" stroke="#666" stroke-width="0.9"/>
<text x="224.94" y="344.6" font-size="7.3" text-anchor="middle" fill="#231f20" font-weight="normal" >0.4</text>
<line x1="261.66" y1="332.3" x2="261.66" y2="334.6" stroke="#666" stroke-width="0.9"/>
<text x="261.65999999999997" y="344.6" font-size="7.3" text-anchor="middle" fill="#231f20" font-weight="normal" >0.6</text>
<text x="151.4" y="359.3" font-size="9" text-anchor="middle" fill="#231f20" font-weight="normal" textLength="121.7" lengthAdjust="spacingAndGlyphs" >Loading on first latent variable</text>
<rect x="436.3" y="200.80" width="36.10" height="8.4" fill="#4a9888"/>
<rect x="472.4" y="200.80" width="103.90" height="8.4" fill="#f0925c"/>
<rect x="440" y="213.10" width="32.40" height="8.4" fill="#4a9888"/>
<rect x="472.4" y="213.10" width="101.20" height="8.4" fill="#f0925c"/>
<rect x="442.7" y="225.40" width="29.70" height="8.4" fill="#4a9888"/>
<rect x="472.4" y="225.40" width="98.00" height="8.4" fill="#f0925c"/>
<rect x="443" y="237.70" width="29.40" height="8.4" fill="#4a9888"/>
<rect x="472.4" y="237.70" width="96.80" height="8.4" fill="#f0925c"/>
<rect x="448.8" y="250.00" width="23.60" height="8.4" fill="#4a9888"/>
<rect x="472.4" y="250.00" width="96.30" height="8.4" fill="#f0925c"/>
<rect x="449.2" y="262.30" width="23.20" height="8.4" fill="#4a9888"/>
<rect x="472.4" y="262.30" width="95.10" height="8.4" fill="#f0925c"/>
<rect x="449.7" y="274.60" width="22.70" height="8.4" fill="#4a9888"/>
<rect x="472.4" y="274.60" width="86.40" height="8.4" fill="#f0925c"/>
<rect x="450.1" y="286.90" width="22.30" height="8.4" fill="#4a9888"/>
<rect x="472.4" y="286.90" width="86.40" height="8.4" fill="#f0925c"/>
<rect x="451.5" y="299.20" width="20.90" height="8.4" fill="#4a9888"/>
<rect x="472.4" y="299.20" width="82.00" height="8.4" fill="#f0925c"/>
<rect x="452.9" y="311.50" width="19.50" height="8.4" fill="#4a9888"/>
<rect x="472.4" y="311.50" width="79.20" height="8.4" fill="#f0925c"/>
<g filter="url(#wb)"><path d="M428.8 205.00 C432.1 203.50 439.4 203.50 443.9 205.00 C439.4 206.50 432.1 206.50 428.8 205.00 Z" fill="#333" fill-opacity="0.50"/><path d="M430.6 205.00 C432.9 203.25 437.8 203.25 440.9 205.00 C437.8 206.75 432.9 206.75 430.6 205.00 Z" fill="#1e1e1e" fill-opacity="0.70"/></g>
<g filter="url(#wb)"><path d="M564.8 205.00 C569.9 203.50 580.9 203.50 587.8 205.00 C580.9 206.50 569.9 206.50 564.8 205.00 Z" fill="#333" fill-opacity="0.50"/><path d="M567.6 205.00 C571.0 203.25 578.5 203.25 583.2 205.00 C578.5 206.75 571.0 206.75 567.6 205.00 Z" fill="#1e1e1e" fill-opacity="0.70"/></g>
<text x="419.7" y="207.9" font-size="8.8" text-anchor="end" fill="#231f20" font-weight="normal" textLength="34.98" lengthAdjust="spacingAndGlyphs" >Intention</text>
<text x="590.6" y="207.9" font-size="8.8" text-anchor="start" fill="#231f20" font-weight="normal" textLength="37.23" lengthAdjust="spacingAndGlyphs" >Addiction</text>
<g filter="url(#wb)"><path d="M432.0 217.30 C435.4 215.80 442.8 215.80 447.4 217.30 C442.8 218.80 435.4 218.80 432.0 217.30 Z" fill="#333" fill-opacity="0.50"/><path d="M433.8 217.30 C436.2 215.55 441.2 215.55 444.3 217.30 C441.2 219.05 436.2 219.05 433.8 217.30 Z" fill="#1e1e1e" fill-opacity="0.70"/></g>
<g filter="url(#wb)"><path d="M560.4 217.30 C566.2 215.80 578.9 215.80 586.9 217.30 C578.9 218.80 566.2 218.80 560.4 217.30 Z" fill="#333" fill-opacity="0.50"/><path d="M563.6 217.30 C567.5 215.55 576.2 215.55 581.6 217.30 C576.2 219.05 567.5 219.05 563.6 217.30 Z" fill="#1e1e1e" fill-opacity="0.70"/></g>
<text x="419.7" y="220.20000000000002" font-size="8.8" text-anchor="end" fill="#231f20" font-weight="normal" textLength="62.2" lengthAdjust="spacingAndGlyphs" >Visual attention</text>
<text x="590.6" y="220.20000000000002" font-size="8.8" text-anchor="start" fill="#231f20" font-weight="normal" textLength="46.79" lengthAdjust="spacingAndGlyphs" >Anticipation</text>
<g filter="url(#wb)"><path d="M435.6 229.60 C438.4 228.10 444.5 228.10 448.3 229.60 C444.5 231.10 438.4 231.10 435.6 229.60 Z" fill="#333" fill-opacity="0.50"/><path d="M437.1 229.60 C439.0 227.85 443.2 227.85 445.8 229.60 C443.2 231.35 439.0 231.35 437.1 229.60 Z" fill="#1e1e1e" fill-opacity="0.70"/></g>
<g filter="url(#wb)"><path d="M558.6 229.60 C563.9 228.10 575.3 228.10 582.5 229.60 C575.3 231.10 563.9 231.10 558.6 229.60 Z" fill="#333" fill-opacity="0.47"/><path d="M561.5 229.60 C565.0 227.85 572.8 227.85 577.7 229.60 C572.8 231.35 565.0 231.35 561.5 229.60 Z" fill="#1e1e1e" fill-opacity="0.66"/></g>
<text x="419.7" y="232.5" font-size="8.8" text-anchor="end" fill="#231f20" font-weight="normal" textLength="65.41" lengthAdjust="spacingAndGlyphs" >Spatial attention</text>
<text x="590.6" y="232.5" font-size="8.8" text-anchor="start" fill="#231f20" font-weight="normal" textLength="79.49" lengthAdjust="spacingAndGlyphs" >Reward anticipation</text>
<g filter="url(#wb)"><path d="M433.3 241.90 C437.4 240.40 446.3 240.40 451.9 241.90 C446.3 243.40 437.4 243.40 433.3 241.90 Z" fill="#333" fill-opacity="0.45"/><path d="M435.5 241.90 C438.3 240.15 444.4 240.15 448.2 241.90 C444.4 243.65 438.3 243.65 435.5 241.90 Z" fill="#1e1e1e" fill-opacity="0.63"/></g>
<g filter="url(#wb)"><path d="M556.8 241.90 C562.1 240.40 573.7 240.40 581.0 241.90 C573.7 243.40 562.1 243.40 556.8 241.90 Z" fill="#333" fill-opacity="0.47"/><path d="M559.7 241.90 C563.3 240.15 571.2 240.15 576.2 241.90 C571.2 243.65 563.3 243.65 559.7 241.90 Z" fill="#1e1e1e" fill-opacity="0.66"/></g>
<text x="419.7" y="244.8" font-size="8.8" text-anchor="end" fill="#231f20" font-weight="normal" textLength="73.51" lengthAdjust="spacingAndGlyphs" >Object recognition</text>
<text x="590.6" y="244.8" font-size="8.8" text-anchor="start" fill="#231f20" font-weight="normal" textLength="25.65" lengthAdjust="spacingAndGlyphs" >Stress</text>
<g filter="url(#wb)"><path d="M437.7 254.20 C442.2 252.70 451.9 252.70 458.0 254.20 C451.9 255.70 442.2 255.70 437.7 254.20 Z" fill="#333" fill-opacity="0.45"/><path d="M440.1 254.20 C443.2 252.45 449.8 252.45 453.9 254.20 C449.8 255.95 443.2 255.95 440.1 254.20 Z" fill="#1e1e1e" fill-opacity="0.63"/></g>
<g filter="url(#wb)"><path d="M555.6 254.20 C561.3 252.70 573.8 252.70 581.6 254.20 C573.8 255.70 561.3 255.70 555.6 254.20 Z" fill="#333" fill-opacity="0.47"/><path d="M558.7 254.20 C562.6 252.45 571.1 252.45 576.4 254.20 C571.1 255.95 562.6 255.95 558.7 254.20 Z" fill="#1e1e1e" fill-opacity="0.66"/></g>
<text x="419.7" y="257.09999999999997" font-size="8.8" text-anchor="end" fill="#231f20" font-weight="normal" textLength="51.19" lengthAdjust="spacingAndGlyphs" >Multisensory</text>
<text x="590.6" y="257.09999999999997" font-size="8.8" text-anchor="start" fill="#231f20" font-weight="normal" textLength="23.15" lengthAdjust="spacingAndGlyphs" >Sleep</text>
<g filter="url(#wb)"><path d="M440.4 266.50 C444.1 265.00 452.2 265.00 457.2 266.50 C452.2 268.00 444.1 268.00 440.4 266.50 Z" fill="#333" fill-opacity="0.30"/><path d="M442.4 266.50 C444.9 264.75 450.4 264.75 453.8 266.50 C450.4 268.25 444.9 268.25 442.4 266.50 Z" fill="#1e1e1e" fill-opacity="0.42"/></g>
<g filter="url(#wb)"><path d="M553.9 266.50 C560.3 265.00 574.3 265.00 583.1 266.50 C574.3 268.00 560.3 268.00 553.9 266.50 Z" fill="#333" fill-opacity="0.40"/><path d="M557.4 266.50 C561.8 264.75 571.3 264.75 577.3 266.50 C571.3 268.25 561.8 268.25 557.4 266.50 Z" fill="#1e1e1e" fill-opacity="0.56"/></g>
<text x="419.7" y="269.4" font-size="8.8" text-anchor="end" fill="#231f20" font-weight="normal" textLength="33.97" lengthAdjust="spacingAndGlyphs" >Reading</text>
<text x="590.6" y="269.4" font-size="8.8" text-anchor="start" fill="#231f20" font-weight="normal" textLength="19.11" lengthAdjust="spacingAndGlyphs" >Loss</text>
<g filter="url(#wb)"><path d="M442.1 278.80 C445.2 277.30 452.0 277.30 456.3 278.80 C452.0 280.30 445.2 280.30 442.1 278.80 Z" fill="#333" fill-opacity="0.30"/><path d="M443.8 278.80 C445.9 277.05 450.6 277.05 453.5 278.80 C450.6 280.55 445.9 280.55 443.8 278.80 Z" fill="#1e1e1e" fill-opacity="0.42"/></g>
<g filter="url(#wb)"><path d="M543.3 278.80 C550.7 277.30 566.8 277.30 576.9 278.80 C566.8 280.30 550.7 280.30 543.3 278.80 Z" fill="#333" fill-opacity="0.35"/><path d="M547.3 278.80 C552.4 277.05 563.3 277.05 570.2 278.80 C563.3 280.55 552.4 280.55 547.3 278.80 Z" fill="#1e1e1e" fill-opacity="0.49"/></g>
<text x="419.7" y="281.7" font-size="8.8" text-anchor="end" fill="#231f20" font-weight="normal" textLength="68.77" lengthAdjust="spacingAndGlyphs" >Word recognition</text>
<text x="590.6" y="281.7" font-size="8.8" text-anchor="start" fill="#231f20" font-weight="normal" textLength="93.57" lengthAdjust="spacingAndGlyphs" >Reinforcement learning</text>
<g filter="url(#wb)"><path d="M437.7 291.10 C443.0 289.60 454.4 289.60 461.6 291.10 C454.4 292.60 443.0 292.60 437.7 291.10 Z" fill="#333" fill-opacity="0.28"/><path d="M440.6 291.10 C444.1 289.35 451.9 289.35 456.8 291.10 C451.9 292.85 444.1 292.85 440.6 291.10 Z" fill="#1e1e1e" fill-opacity="0.39"/></g>
<g filter="url(#wb)"><path d="M545.0 291.10 C551.4 289.60 565.4 289.60 574.2 291.10 C565.4 292.60 551.4 292.60 545.0 291.10 Z" fill="#333" fill-opacity="0.35"/><path d="M548.5 291.10 C552.9 289.35 562.4 289.35 568.4 291.10 C562.4 292.85 552.9 292.85 548.5 291.10 Z" fill="#1e1e1e" fill-opacity="0.49"/></g>
<text x="419.7" y="294.0" font-size="8.8" text-anchor="end" fill="#231f20" font-weight="normal" textLength="48.16" lengthAdjust="spacingAndGlyphs" >Localization</text>
<text x="590.6" y="294.0" font-size="8.8" text-anchor="start" fill="#231f20" font-weight="normal" textLength="25.66" lengthAdjust="spacingAndGlyphs" >Eating</text>
<g filter="url(#wb)"><path d="M444.8 303.40 C447.5 301.90 453.5 301.90 457.2 303.40 C453.5 304.90 447.5 304.90 444.8 303.40 Z" fill="#333" fill-opacity="0.28"/><path d="M446.3 303.40 C448.1 301.65 452.2 301.65 454.7 303.40 C452.2 305.15 448.1 305.15 446.3 303.40 Z" fill="#1e1e1e" fill-opacity="0.39"/></g>
<g filter="url(#wb)"><path d="M543.3 303.40 C548.6 301.90 560.0 301.90 567.2 303.40 C560.0 304.90 548.6 304.90 543.3 303.40 Z" fill="#333" fill-opacity="0.33"/><path d="M546.2 303.40 C549.7 301.65 557.5 301.65 562.4 303.40 C557.5 305.15 549.7 305.15 546.2 303.40 Z" fill="#1e1e1e" fill-opacity="0.45"/></g>
<text x="419.7" y="306.3" font-size="8.8" text-anchor="end" fill="#231f20" font-weight="normal" textLength="103.43" lengthAdjust="spacingAndGlyphs" >Sentence comprehension</text>
<text x="590.6" y="306.3" font-size="8.8" text-anchor="start" fill="#231f20" font-weight="normal" textLength="29.67" lengthAdjust="spacingAndGlyphs" >Anxiety</text>
<g filter="url(#wb)"><path d="M443.9 315.70 C447.6 314.20 455.7 314.20 460.7 315.70 C455.7 317.20 447.6 317.20 443.9 315.70 Z" fill="#333" fill-opacity="0.28"/><path d="M445.9 315.70 C448.4 313.95 453.9 313.95 457.3 315.70 C453.9 317.45 448.4 317.45 445.9 315.70 Z" fill="#1e1e1e" fill-opacity="0.39"/></g>
<g filter="url(#wb)"><path d="M536.2 315.70 C543.0 314.20 557.9 314.20 567.2 315.70 C557.9 317.20 543.0 317.20 536.2 315.70 Z" fill="#333" fill-opacity="0.30"/><path d="M539.9 315.70 C544.6 313.95 554.7 313.95 561.0 315.70 C554.7 317.45 544.6 317.45 539.9 315.70 Z" fill="#1e1e1e" fill-opacity="0.42"/></g>
<text x="419.7" y="318.59999999999997" font-size="8.8" text-anchor="end" fill="#231f20" font-weight="normal" textLength="74.53" lengthAdjust="spacingAndGlyphs" >Selective attention</text>
<text x="590.6" y="318.59999999999997" font-size="8.8" text-anchor="start" fill="#231f20" font-weight="normal" textLength="17.59" lengthAdjust="spacingAndGlyphs" >Risk</text>
<line x1="472.4" y1="200.8" x2="472.4" y2="319.9" stroke="#444" stroke-width="0.55"/>
<line x1="402" y1="332.3" x2="589" y2="332.3" stroke="#666" stroke-width="0.9"/>
<line x1="409.40" y1="332.3" x2="409.40" y2="334.6" stroke="#666" stroke-width="0.9"/>
<text x="409.4" y="344.6" font-size="7.3" text-anchor="middle" fill="#231f20" font-weight="normal" >−0.4</text>
<line x1="440.90" y1="332.3" x2="440.90" y2="334.6" stroke="#666" stroke-width="0.9"/>
<text x="440.9" y="344.6" font-size="7.3" text-anchor="middle" fill="#231f20" font-weight="normal" >−0.2</text>
<line x1="472.40" y1="332.3" x2="472.40" y2="334.6" stroke="#666" stroke-width="0.9"/>
<text x="472.4" y="344.6" font-size="7.3" text-anchor="middle" fill="#231f20" font-weight="normal" >0</text>
<line x1="503.90" y1="332.3" x2="503.90" y2="334.6" stroke="#666" stroke-width="0.9"/>
<text x="503.9" y="344.6" font-size="7.3" text-anchor="middle" fill="#231f20" font-weight="normal" >0.2</text>
<line x1="535.40" y1="332.3" x2="535.40" y2="334.6" stroke="#666" stroke-width="0.9"/>
<text x="535.4" y="344.6" font-size="7.3" text-anchor="middle" fill="#231f20" font-weight="normal" >0.4</text>
<line x1="566.90" y1="332.3" x2="566.90" y2="334.6" stroke="#666" stroke-width="0.9"/>
<text x="566.9" y="344.6" font-size="7.3" text-anchor="middle" fill="#231f20" font-weight="normal" >0.6</text>
<text x="495.2" y="359.2" font-size="9" text-anchor="middle" fill="#231f20" font-weight="normal" textLength="121.7" lengthAdjust="spacingAndGlyphs" >Loading on first latent variable</text>
</svg>
</body></html>
